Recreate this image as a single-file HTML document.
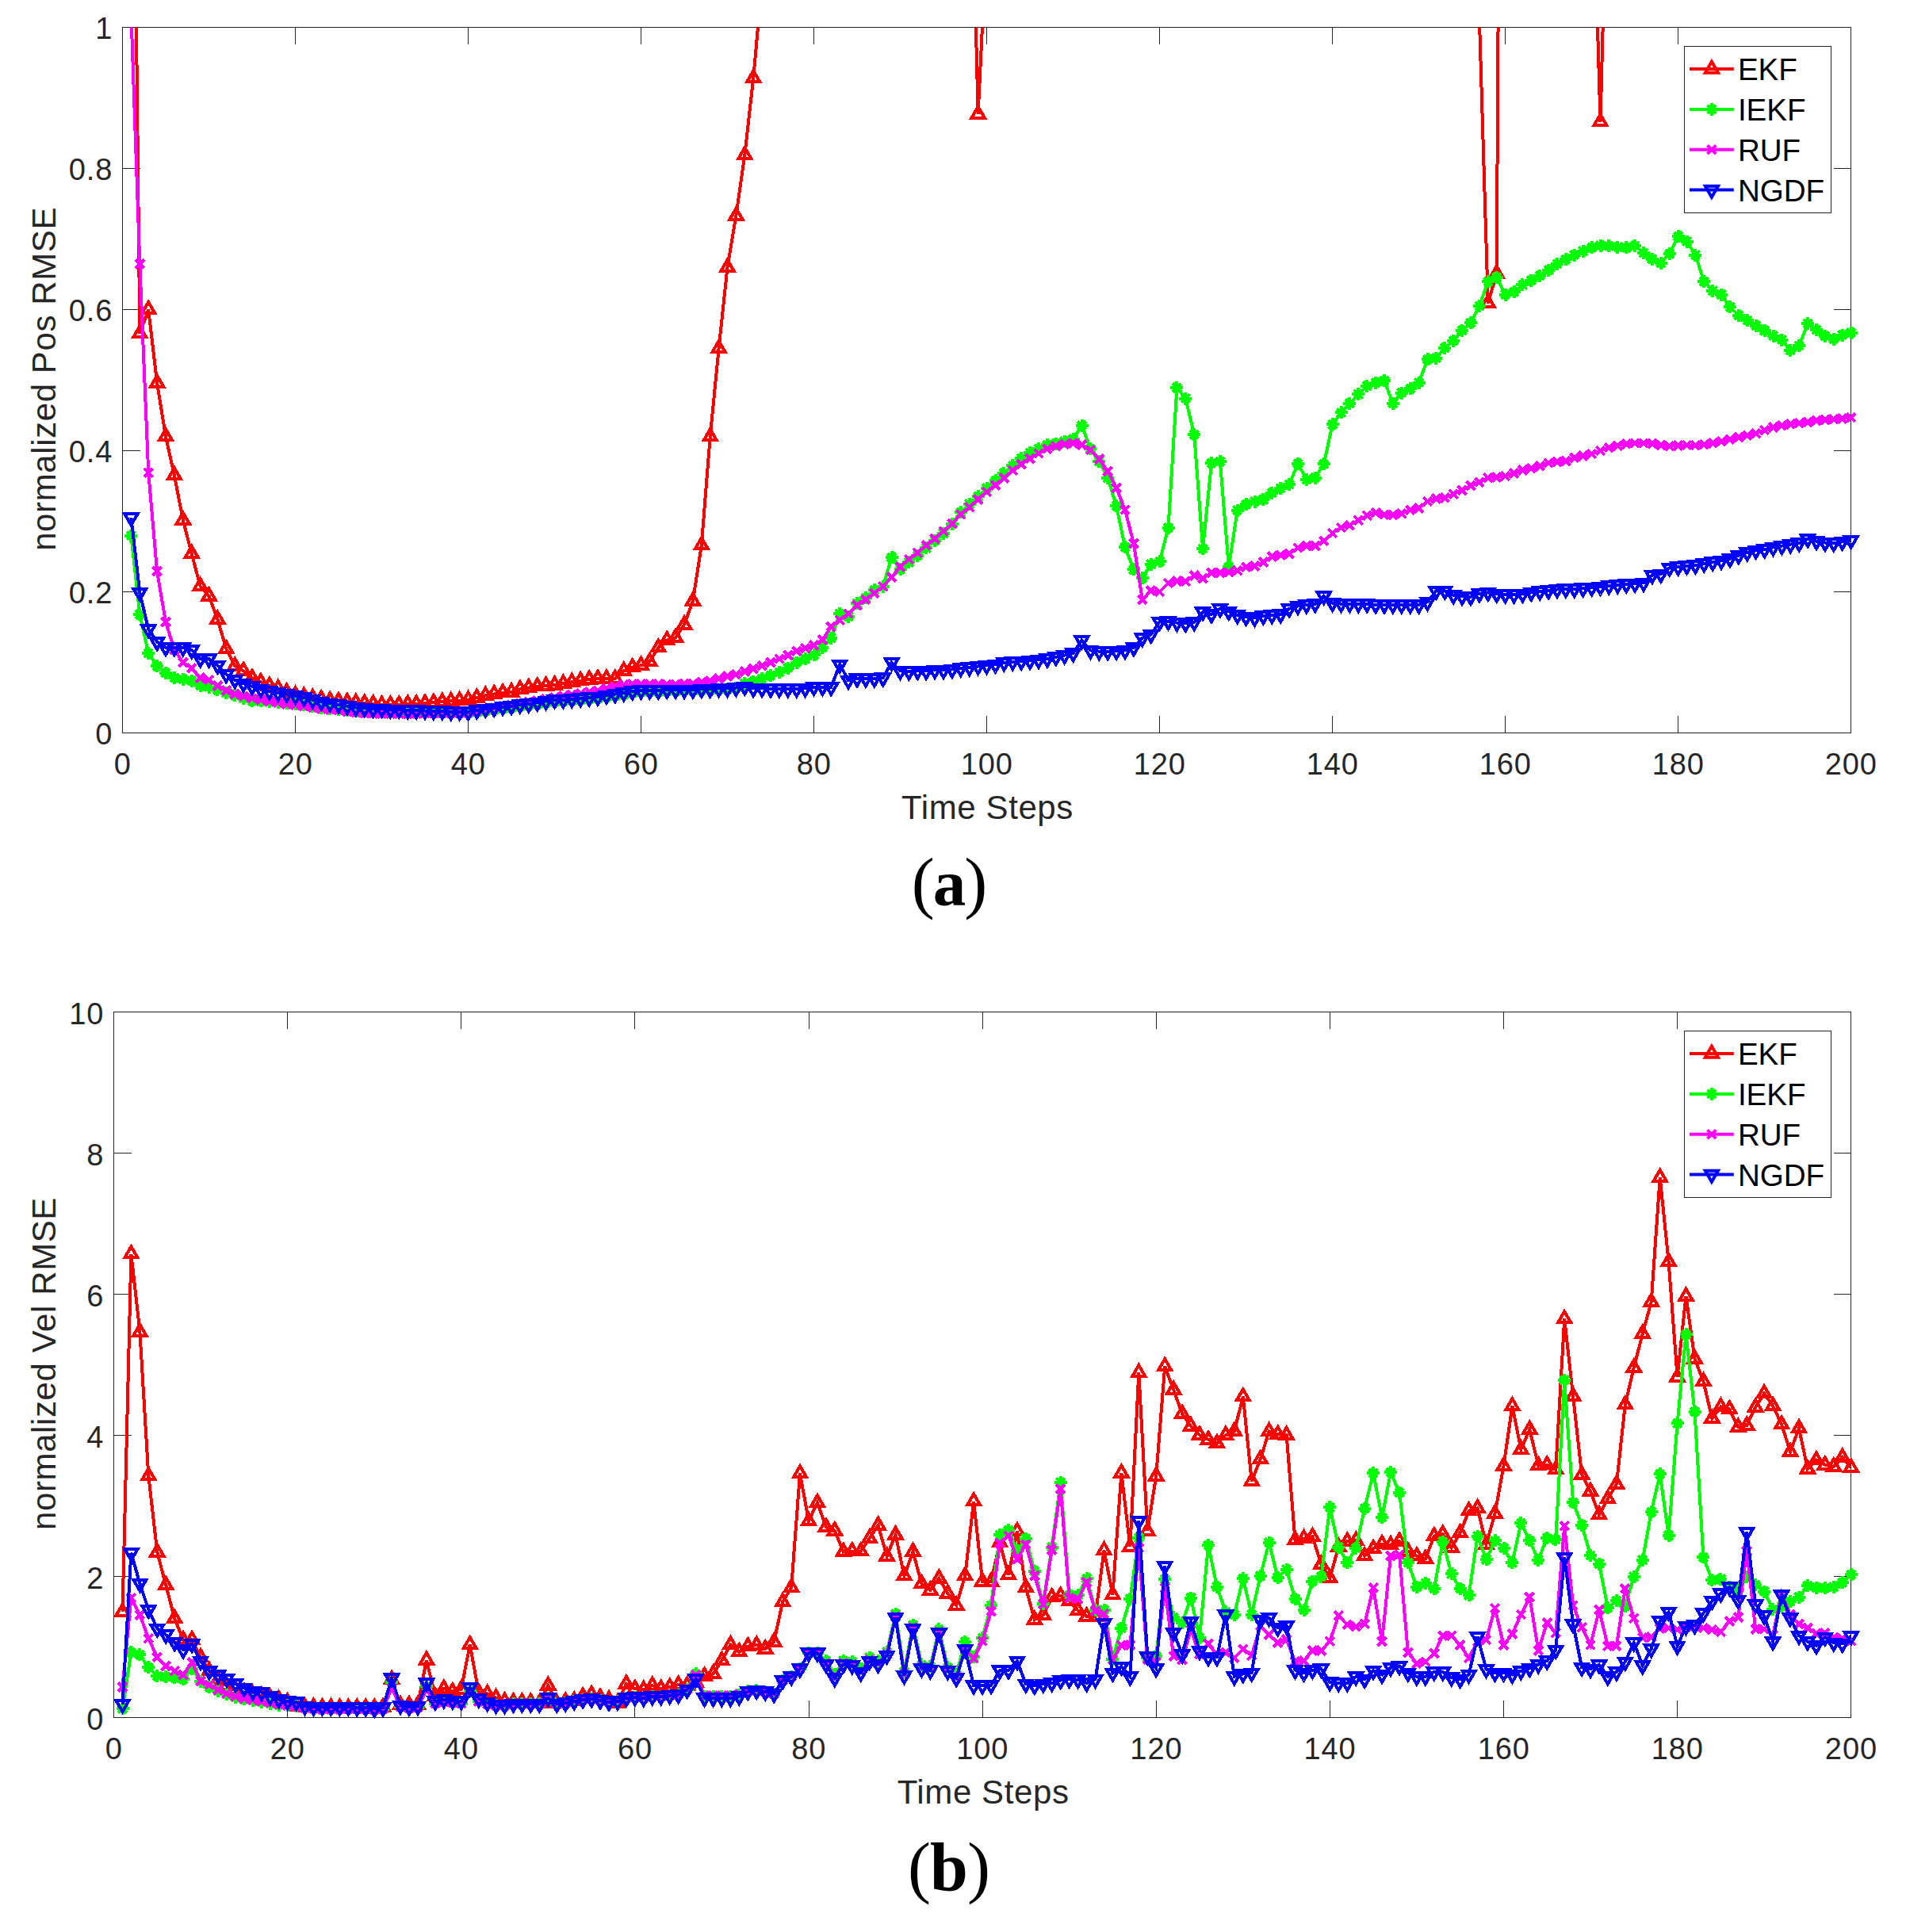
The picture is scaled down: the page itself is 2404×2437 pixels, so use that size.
<!DOCTYPE html>
<html lang="en"><head><meta charset="utf-8"><title>Normalized RMSE comparison</title>
<style>html,body{margin:0;padding:0;background:#fff}svg{display:block}</style></head>
<body>
<svg width="2404" height="2437" viewBox="0 0 2404 2437" font-family="'Liberation Sans', Arial, Helvetica, sans-serif">
<rect width="2404" height="2437" fill="#fff"/>
<clipPath id="clip1"><rect x="154.5" y="34.4" width="2180.1" height="890.1"/></clipPath>
<g stroke="#262626" stroke-width="1" fill="none" shape-rendering="crispEdges"><rect x="154.5" y="34.4" width="2180.1" height="890.1"/><path d="M372.5 924.5v-22M372.5 34.4v22M590.5 924.5v-22M590.5 34.4v22M808.5 924.5v-22M808.5 34.4v22M1026.5 924.5v-22M1026.5 34.4v22M1244.5 924.5v-22M1244.5 34.4v22M1462.6 924.5v-22M1462.6 34.4v22M1680.6 924.5v-22M1680.6 34.4v22M1898.6 924.5v-22M1898.6 34.4v22M2116.6 924.5v-22M2116.6 34.4v22M154.5 746.5h22M2334.6 746.5h-22M154.5 568.5h22M2334.6 568.5h-22M154.5 390.4h22M2334.6 390.4h-22M154.5 212.4h22M2334.6 212.4h-22"/></g>
<polyline clip-path="url(#clip1)" points="165.4,-553.1 176.3,420.7 187.2,390.4 198.1,483 209,550.7 219.9,599.6 230.8,656 241.7,698.4 252.6,739.4 263.5,751.8 274.4,781.2 285.3,818.6 296.2,839.9 307.1,846.2 318,855.1 328.9,860.4 339.8,864.9 350.7,868.4 361.6,872.9 372.5,876.4 383.4,878.2 394.3,880 405.2,881.8 416.1,883.6 427,884.4 437.9,885.3 448.8,886.2 459.7,887.1 470.6,888 481.5,888.9 492.4,888.9 503.3,888.9 514.2,888 525.1,888 536,887.1 546.9,886.2 557.8,885.3 568.7,884.4 579.6,883.6 590.5,882.7 601.4,880 612.3,877.3 623.2,875.5 634.1,873.8 645,872.9 655.9,869.3 666.8,867.5 677.7,865.8 688.6,864.9 699.5,864 710.4,862.2 721.3,860.4 732.2,858.6 743.1,856.9 754,856 764.9,856 775.8,856 786.7,846.2 797.6,841.7 808.5,839.1 819.4,834.6 830.3,816.8 841.2,807.4 852.1,804.3 863,787.9 873.9,758.1 884.8,687.7 895.7,550.7 906.6,439.4 917.5,337 928.4,272.1 939.3,195.5 950.2,98.5 961.1,-22.6 972,-3000 982.9,-3000 993.8,-3000 1004.7,-3000 1015.6,-3000 1026.5,-3000 1037.4,-3000 1048.3,-3000 1059.2,-3000 1070.1,-3000 1081,-3000 1091.9,-3000 1102.8,-3000 1113.7,-3000 1124.6,-3000 1135.5,-3000 1146.4,-3000 1157.3,-3000 1168.2,-3000 1179.1,-3000 1190,-3000 1200.9,-3000 1211.8,-3000 1222.7,-294.9 1233.6,143.9 1244.5,-79.5 1255.5,-3000 1266.4,-3000 1277.3,-3000 1288.2,-3000 1299.1,-3000 1310,-3000 1320.9,-3000 1331.8,-3000 1342.7,-3000 1353.6,-3000 1364.5,-3000 1375.4,-3000 1386.3,-3000 1397.2,-3000 1408.1,-3000 1419,-3000 1429.9,-3000 1440.8,-3000 1451.7,-3000 1462.6,-3000 1473.5,-3000 1484.4,-3000 1495.3,-3000 1506.2,-3000 1517.1,-3000 1528,-3000 1538.9,-3000 1549.8,-3000 1560.7,-3000 1571.6,-3000 1582.5,-3000 1593.4,-3000 1604.3,-3000 1615.2,-3000 1626.1,-3000 1637,-3000 1647.9,-3000 1658.8,-3000 1669.7,-3000 1680.6,-3000 1691.5,-3000 1702.4,-3000 1713.3,-3000 1724.2,-3000 1735.1,-3000 1746,-3000 1756.9,-3000 1767.8,-3000 1778.7,-3000 1789.6,-3000 1800.5,-3000 1811.4,-3000 1822.3,-3000 1833.2,-3000 1844.1,-3000 1855,-3000 1865.9,23.7 1876.8,382.4 1887.7,345 1898.6,-1478.8 1909.5,-3000 1920.4,-3000 1931.3,-3000 1942.2,-3000 1953.1,-3000 1964,-3000 1974.9,-3000 1985.8,-3000 1996.7,-3000 2007.6,-219.3 2018.5,153.7 2029.4,-257.6 2040.3,-3000 2051.2,-3000 2062.1,-3000 2073,-3000 2083.9,-3000 2094.8,-3000 2105.7,-3000 2116.6,-3000 2127.5,-3000 2138.4,-3000 2149.3,-3000 2160.2,-3000 2171.1,-3000 2182,-3000 2192.9,-3000 2203.8,-3000 2214.7,-3000 2225.6,-3000 2236.5,-3000 2247.4,-3000 2258.3,-3000 2269.2,-3000 2280.1,-3000 2291,-3000 2301.9,-3000 2312.8,-3000 2323.7,-3000 2334.6,-3000" fill="none" stroke="#ff0000" stroke-width="4.0" stroke-linejoin="miter" shape-rendering="crispEdges"/>
<path d="M176.3 411.4L184.4 425.4L168.2 425.4ZM187.2 381.1L195.3 395.1L179.1 395.1ZM198.1 473.7L206.2 487.7L190 487.7ZM209 541.4L217.1 555.3L200.9 555.3ZM219.9 590.3L228 604.3L211.8 604.3ZM230.8 646.7L238.9 660.7L222.7 660.7ZM241.7 689.1L249.8 703.1L233.6 703.1ZM252.6 730.1L260.7 744L244.6 744ZM263.5 742.5L271.6 756.5L255.5 756.5ZM274.4 771.9L282.5 785.8L266.4 785.8ZM285.3 809.3L293.4 823.2L277.3 823.2ZM296.2 830.6L304.3 844.6L288.2 844.6ZM307.1 836.9L315.2 850.8L299.1 850.8ZM318 845.8L326.1 859.7L310 859.7ZM328.9 851.1L337 865.1L320.9 865.1ZM339.8 855.6L347.9 869.5L331.8 869.5ZM350.7 859.1L358.8 873.1L342.7 873.1ZM361.6 863.6L369.7 877.5L353.6 877.5ZM372.5 867.1L380.6 881.1L364.5 881.1ZM383.4 868.9L391.5 882.9L375.4 882.9ZM394.3 870.7L402.4 884.6L386.3 884.6ZM405.2 872.5L413.3 886.4L397.2 886.4ZM416.1 874.3L424.2 888.2L408.1 888.2ZM427 875.1L435.1 889.1L419 889.1ZM437.9 876L446 890L429.9 890ZM448.8 876.9L456.9 890.9L440.8 890.9ZM459.7 877.8L467.8 891.8L451.7 891.8ZM470.6 878.7L478.7 892.7L462.6 892.7ZM481.5 879.6L489.6 893.5L473.5 893.5ZM492.4 879.6L500.5 893.5L484.4 893.5ZM503.3 879.6L511.4 893.5L495.3 893.5ZM514.2 878.7L522.3 892.7L506.2 892.7ZM525.1 878.7L533.2 892.7L517.1 892.7ZM536 877.8L544.1 891.8L528 891.8ZM546.9 876.9L555 890.9L538.9 890.9ZM557.8 876L565.9 890L549.8 890ZM568.7 875.1L576.8 889.1L560.7 889.1ZM579.6 874.3L587.7 888.2L571.6 888.2ZM590.5 873.4L598.6 887.3L582.5 887.3ZM601.4 870.7L609.5 884.6L593.4 884.6ZM612.3 868L620.4 882L604.3 882ZM623.2 866.2L631.3 880.2L615.2 880.2ZM634.1 864.5L642.2 878.4L626.1 878.4ZM645 863.6L653.1 877.5L637 877.5ZM655.9 860L664 874L647.9 874ZM666.8 858.2L674.9 872.2L658.8 872.2ZM677.7 856.5L685.8 870.4L669.7 870.4ZM688.6 855.6L696.7 869.5L680.6 869.5ZM699.5 854.7L707.6 868.6L691.5 868.6ZM710.4 852.9L718.5 866.8L702.4 866.8ZM721.3 851.1L729.4 865.1L713.3 865.1ZM732.2 849.3L740.3 863.3L724.2 863.3ZM743.1 847.6L751.2 861.5L735.1 861.5ZM754 846.7L762.1 860.6L746 860.6ZM764.9 846.7L773 860.6L756.9 860.6ZM775.8 846.7L783.9 860.6L767.8 860.6ZM786.7 836.9L794.8 850.8L778.7 850.8ZM797.6 832.4L805.7 846.4L789.6 846.4ZM808.5 829.8L816.6 843.7L800.5 843.7ZM819.4 825.3L827.5 839.2L811.4 839.2ZM830.3 807.5L838.4 821.4L822.3 821.4ZM841.2 798.1L849.3 812L833.2 812ZM852.1 795L860.2 809L844.1 809ZM863 778.6L871.1 792.5L855 792.5ZM873.9 748.8L882 762.7L865.9 762.7ZM884.8 678.4L892.9 692.4L876.8 692.4ZM895.7 541.4L903.8 555.3L887.7 555.3ZM906.6 430.1L914.7 444L898.6 444ZM917.5 327.7L925.6 341.7L909.5 341.7ZM928.4 262.8L936.5 276.7L920.4 276.7ZM939.3 186.2L947.4 200.2L931.3 200.2ZM950.2 89.2L958.3 103.1L942.2 103.1ZM1233.6 134.6L1241.7 148.5L1225.6 148.5ZM1876.8 373.1L1884.8 387.1L1868.7 387.1ZM1887.7 335.7L1895.7 349.7L1879.6 349.7ZM2018.5 144.4L2026.5 158.3L2010.4 158.3Z" fill="none" stroke="#ff0000" stroke-width="4.0" stroke-linejoin="miter" stroke-linecap="butt" shape-rendering="crispEdges"/>
<polyline clip-path="url(#clip1)" points="165.4,675.6 176.3,775 187.2,823.9 198.1,840.3 209,848.8 219.9,855.1 230.8,856.9 241.7,859 252.6,864.9 263.5,866.6 274.4,870.2 285.3,873.8 296.2,877.3 307.1,880.9 318,884.4 328.9,884.4 339.8,885.3 350.7,886.2 361.6,887.1 372.5,888 383.4,888.9 394.3,890.7 405.2,892.5 416.1,894.2 427,895.1 437.9,896 448.8,896.5 459.7,896.9 470.6,897.4 481.5,897.8 492.4,898 503.3,898.2 514.2,898.3 525.1,898.5 536,898.7 546.9,898.9 557.8,899 568.7,899.2 579.6,899.4 590.5,899.6 601.4,898.2 612.3,896.7 623.2,895.3 634.1,893.9 645,892.5 655.9,891 666.8,889.6 677.7,888.2 688.6,886.8 699.5,885.3 710.4,884.4 721.3,883.6 732.2,882.7 743.1,881.8 754,880.9 764.9,879.3 775.8,877.7 786.7,876.1 797.6,874.5 808.5,872.9 819.4,872.5 830.3,872.2 841.2,871.8 852.1,871.5 863,871.1 873.9,870.7 884.8,870.4 895.7,870 906.6,869.7 917.5,869.3 928.4,867.5 939.3,862.2 950.2,859.5 961.1,856 972,852.4 982.9,848 993.8,842.6 1004.7,835.5 1015.6,831 1026.5,826.1 1037.4,816.8 1048.3,804.7 1059.2,774.1 1070.1,777.6 1081,761 1091.9,753.9 1102.8,744.4 1113.7,739.7 1124.6,703.1 1135.5,718.4 1146.4,709.1 1157.3,700.7 1168.2,691.3 1179.1,681.9 1190,672.6 1200.9,660.7 1211.8,646.4 1222.7,635.8 1233.6,626.3 1244.5,615.8 1255.5,606.3 1266.4,596.9 1277.3,587.4 1288.2,578.3 1299.1,571.1 1310,566.1 1320.9,561.3 1331.8,559.6 1342.7,556.9 1353.6,553.8 1364.5,536.7 1375.4,566.1 1386.3,581.8 1397.2,602.8 1408.1,638.2 1419,690.4 1429.9,718.4 1440.8,729.1 1451.7,711.8 1462.6,708.2 1473.5,665.7 1484.4,489.2 1495.3,502.6 1506.2,548 1517.1,692.2 1528,584.2 1538.9,582.3 1549.8,715.3 1560.7,643.7 1571.6,636.1 1582.5,632.5 1593.4,630.2 1604.3,621.9 1615.2,616.1 1626.1,611.2 1637,584.7 1647.9,605 1658.8,602.6 1669.7,585.4 1680.6,535.3 1691.5,520.4 1702.4,508.8 1713.3,497.3 1724.2,486.9 1735.1,482.7 1746,480.3 1756.9,508.8 1767.8,495.6 1778.7,490.1 1789.6,482.7 1800.5,453.2 1811.4,451.5 1822.3,439 1833.2,429.6 1844.1,416.6 1855,407.4 1865.9,386 1876.8,355.1 1887.7,349.9 1898.6,371.7 1909.5,368.2 1920.4,359.3 1931.3,353.9 1942.2,347.7 1953.1,340.9 1964,333.1 1974.9,327.2 1985.8,321.5 1996.7,316.8 2007.6,312.4 2018.5,309.8 2029.4,310.3 2040.3,311.7 2051.2,312.4 2062.1,309.8 2073,318.9 2083.9,326.6 2094.8,331.7 2105.7,320.1 2116.6,298.1 2127.5,304.6 2138.4,321.5 2149.3,355.1 2160.2,366.8 2171.1,371.7 2182,387.4 2192.9,397.8 2203.8,404.2 2214.7,410.9 2225.6,417.1 2236.5,423.6 2247.4,428.7 2258.3,441.8 2269.2,436.1 2280.1,408.2 2291,415.9 2301.9,423.6 2312.8,427.6 2323.7,422.5 2334.6,419.8" fill="none" stroke="#00ff00" stroke-width="4.0" stroke-linejoin="miter" shape-rendering="crispEdges"/>
<path d="M157.4 675.6L173.4 675.6M165.4 667.6L165.4 683.6M160.1 670.3L170.7 680.9M160.1 680.9L170.7 670.3M168.3 775L184.3 775M176.3 767L176.3 783M171 769.7L181.6 780.3M171 780.3L181.6 769.7M179.2 823.9L195.2 823.9M187.2 815.9L187.2 831.9M181.9 818.6L192.5 829.2M181.9 829.2L192.5 818.6M190.1 840.3L206.1 840.3M198.1 832.3L198.1 848.3M192.8 835L203.4 845.6M192.8 845.6L203.4 835M201 848.8L217 848.8M209 840.8L209 856.8M203.7 843.5L214.3 854.1M203.7 854.1L214.3 843.5M211.9 855.1L227.9 855.1M219.9 847.1L219.9 863.1M214.6 849.8L225.2 860.4M214.6 860.4L225.2 849.8M222.8 856.9L238.8 856.9M230.8 848.9L230.8 864.9M225.5 851.6L236.1 862.2M225.5 862.2L236.1 851.6M233.7 859L249.7 859M241.7 851L241.7 867M236.4 853.7L247 864.3M236.4 864.3L247 853.7M244.6 864.9L260.6 864.9M252.6 856.9L252.6 872.9M247.3 859.6L257.9 870.2M247.3 870.2L257.9 859.6M255.5 866.6L271.5 866.6M263.5 858.6L263.5 874.6M258.2 861.3L268.8 871.9M258.2 871.9L268.8 861.3M266.4 870.2L282.4 870.2M274.4 862.2L274.4 878.2M269.1 864.9L279.7 875.5M269.1 875.5L279.7 864.9M277.3 873.8L293.3 873.8M285.3 865.8L285.3 881.8M280 868.5L290.6 879.1M280 879.1L290.6 868.5M288.2 877.3L304.2 877.3M296.2 869.3L296.2 885.3M290.9 872L301.5 882.6M290.9 882.6L301.5 872M299.1 880.9L315.1 880.9M307.1 872.9L307.1 888.9M301.8 875.6L312.4 886.2M301.8 886.2L312.4 875.6M310 884.4L326 884.4M318 876.4L318 892.4M312.7 879.1L323.3 889.7M312.7 889.7L323.3 879.1M320.9 884.4L336.9 884.4M328.9 876.4L328.9 892.4M323.6 879.1L334.2 889.7M323.6 889.7L334.2 879.1M331.8 885.3L347.8 885.3M339.8 877.3L339.8 893.3M334.5 880L345.1 890.6M334.5 890.6L345.1 880M342.7 886.2L358.7 886.2M350.7 878.2L350.7 894.2M345.4 880.9L356 891.5M345.4 891.5L356 880.9M353.6 887.1L369.6 887.1M361.6 879.1L361.6 895.1M356.3 881.8L366.9 892.4M356.3 892.4L366.9 881.8M364.5 888L380.5 888M372.5 880L372.5 896M367.2 882.7L377.8 893.3M367.2 893.3L377.8 882.7M375.4 888.9L391.4 888.9M383.4 880.9L383.4 896.9M378.1 883.6L388.7 894.2M378.1 894.2L388.7 883.6M386.3 890.7L402.3 890.7M394.3 882.7L394.3 898.7M389 885.4L399.6 896M389 896L399.6 885.4M397.2 892.5L413.2 892.5M405.2 884.5L405.2 900.5M399.9 887.2L410.5 897.8M399.9 897.8L410.5 887.2M408.1 894.2L424.1 894.2M416.1 886.2L416.1 902.2M410.8 888.9L421.4 899.5M410.8 899.5L421.4 888.9M419 895.1L435 895.1M427 887.1L427 903.1M421.7 889.8L432.3 900.4M421.7 900.4L432.3 889.8M429.9 896L445.9 896M437.9 888L437.9 904M432.6 890.7L443.2 901.3M432.6 901.3L443.2 890.7M440.8 896.5L456.8 896.5M448.8 888.5L448.8 904.5M443.5 891.2L454.1 901.8M443.5 901.8L454.1 891.2M451.7 896.9L467.7 896.9M459.7 888.9L459.7 904.9M454.4 891.6L465 902.2M454.4 902.2L465 891.6M462.6 897.4L478.6 897.4M470.6 889.4L470.6 905.4M465.3 892.1L475.9 902.7M465.3 902.7L475.9 892.1M473.5 897.8L489.5 897.8M481.5 889.8L481.5 905.8M476.2 892.5L486.8 903.1M476.2 903.1L486.8 892.5M484.4 898L500.4 898M492.4 890L492.4 906M487.1 892.7L497.7 903.3M487.1 903.3L497.7 892.7M495.3 898.2L511.3 898.2M503.3 890.2L503.3 906.2M498 892.9L508.6 903.5M498 903.5L508.6 892.9M506.2 898.3L522.2 898.3M514.2 890.3L514.2 906.3M508.9 893L519.5 903.6M508.9 903.6L519.5 893M517.1 898.5L533.1 898.5M525.1 890.5L525.1 906.5M519.8 893.2L530.4 903.8M519.8 903.8L530.4 893.2M528 898.7L544 898.7M536 890.7L536 906.7M530.7 893.4L541.3 904M530.7 904L541.3 893.4M538.9 898.9L554.9 898.9M546.9 890.9L546.9 906.9M541.6 893.6L552.2 904.2M541.6 904.2L552.2 893.6M549.8 899L565.8 899M557.8 891L557.8 907M552.5 893.7L563.1 904.3M552.5 904.3L563.1 893.7M560.7 899.2L576.7 899.2M568.7 891.2L568.7 907.2M563.4 893.9L574 904.5M563.4 904.5L574 893.9M571.6 899.4L587.6 899.4M579.6 891.4L579.6 907.4M574.3 894.1L584.9 904.7M574.3 904.7L584.9 894.1M582.5 899.6L598.5 899.6M590.5 891.6L590.5 907.6M585.2 894.3L595.8 904.9M585.2 904.9L595.8 894.3M593.4 898.2L609.4 898.2M601.4 890.2L601.4 906.2M596.1 892.9L606.7 903.5M596.1 903.5L606.7 892.9M604.3 896.7L620.3 896.7M612.3 888.7L612.3 904.7M607 891.4L617.6 902M607 902L617.6 891.4M615.2 895.3L631.2 895.3M623.2 887.3L623.2 903.3M617.9 890L628.5 900.6M617.9 900.6L628.5 890M626.1 893.9L642.1 893.9M634.1 885.9L634.1 901.9M628.8 888.6L639.4 899.2M628.8 899.2L639.4 888.6M637 892.5L653 892.5M645 884.5L645 900.5M639.7 887.2L650.3 897.8M639.7 897.8L650.3 887.2M647.9 891L663.9 891M655.9 883L655.9 899M650.6 885.7L661.2 896.3M650.6 896.3L661.2 885.7M658.8 889.6L674.8 889.6M666.8 881.6L666.8 897.6M661.5 884.3L672.1 894.9M661.5 894.9L672.1 884.3M669.7 888.2L685.7 888.2M677.7 880.2L677.7 896.2M672.4 882.9L683 893.5M672.4 893.5L683 882.9M680.6 886.8L696.6 886.8M688.6 878.8L688.6 894.8M683.3 881.5L693.9 892.1M683.3 892.1L693.9 881.5M691.5 885.3L707.5 885.3M699.5 877.3L699.5 893.3M694.2 880L704.8 890.6M694.2 890.6L704.8 880M702.4 884.4L718.4 884.4M710.4 876.4L710.4 892.4M705.1 879.1L715.7 889.7M705.1 889.7L715.7 879.1M713.3 883.6L729.3 883.6M721.3 875.6L721.3 891.6M716 878.3L726.6 888.9M716 888.9L726.6 878.3M724.2 882.7L740.2 882.7M732.2 874.7L732.2 890.7M726.9 877.4L737.5 888M726.9 888L737.5 877.4M735.1 881.8L751.1 881.8M743.1 873.8L743.1 889.8M737.8 876.5L748.4 887.1M737.8 887.1L748.4 876.5M746 880.9L762 880.9M754 872.9L754 888.9M748.7 875.6L759.3 886.2M748.7 886.2L759.3 875.6M756.9 879.3L772.9 879.3M764.9 871.3L764.9 887.3M759.6 874L770.2 884.6M759.6 884.6L770.2 874M767.8 877.7L783.8 877.7M775.8 869.7L775.8 885.7M770.5 872.4L781.1 883M770.5 883L781.1 872.4M778.7 876.1L794.7 876.1M786.7 868.1L786.7 884.1M781.4 870.8L792 881.4M781.4 881.4L792 870.8M789.6 874.5L805.6 874.5M797.6 866.5L797.6 882.5M792.3 869.2L802.9 879.8M792.3 879.8L802.9 869.2M800.5 872.9L816.5 872.9M808.5 864.9L808.5 880.9M803.2 867.6L813.8 878.2M803.2 878.2L813.8 867.6M811.4 872.5L827.4 872.5M819.4 864.5L819.4 880.5M814.1 867.2L824.7 877.8M814.1 877.8L824.7 867.2M822.3 872.2L838.3 872.2M830.3 864.2L830.3 880.2M825 866.9L835.6 877.5M825 877.5L835.6 866.9M833.2 871.8L849.2 871.8M841.2 863.8L841.2 879.8M835.9 866.5L846.5 877.1M835.9 877.1L846.5 866.5M844.1 871.5L860.1 871.5M852.1 863.5L852.1 879.5M846.8 866.2L857.4 876.8M846.8 876.8L857.4 866.2M855 871.1L871 871.1M863 863.1L863 879.1M857.7 865.8L868.3 876.4M857.7 876.4L868.3 865.8M865.9 870.7L881.9 870.7M873.9 862.7L873.9 878.7M868.6 865.4L879.2 876M868.6 876L879.2 865.4M876.8 870.4L892.8 870.4M884.8 862.4L884.8 878.4M879.5 865.1L890.1 875.7M879.5 875.7L890.1 865.1M887.7 870L903.7 870M895.7 862L895.7 878M890.4 864.7L901 875.3M890.4 875.3L901 864.7M898.6 869.7L914.6 869.7M906.6 861.7L906.6 877.7M901.3 864.4L911.9 875M901.3 875L911.9 864.4M909.5 869.3L925.5 869.3M917.5 861.3L917.5 877.3M912.2 864L922.8 874.6M912.2 874.6L922.8 864M920.4 867.5L936.4 867.5M928.4 859.5L928.4 875.5M923.1 862.2L933.7 872.8M923.1 872.8L933.7 862.2M931.3 862.2L947.3 862.2M939.3 854.2L939.3 870.2M934 856.9L944.6 867.5M934 867.5L944.6 856.9M942.2 859.5L958.2 859.5M950.2 851.5L950.2 867.5M944.9 854.2L955.5 864.8M944.9 864.8L955.5 854.2M953.1 856L969.1 856M961.1 848L961.1 864M955.8 850.7L966.4 861.3M955.8 861.3L966.4 850.7M964 852.4L980 852.4M972 844.4L972 860.4M966.7 847.1L977.3 857.7M966.7 857.7L977.3 847.1M974.9 848L990.9 848M982.9 840L982.9 856M977.6 842.7L988.2 853.3M977.6 853.3L988.2 842.7M985.8 842.6L1001.8 842.6M993.8 834.6L993.8 850.6M988.5 837.3L999.1 847.9M988.5 847.9L999.1 837.3M996.7 835.5L1012.7 835.5M1004.7 827.5L1004.7 843.5M999.4 830.2L1010 840.8M999.4 840.8L1010 830.2M1007.6 831L1023.6 831M1015.6 823L1015.6 839M1010.3 825.7L1020.9 836.3M1010.3 836.3L1020.9 825.7M1018.5 826.1L1034.5 826.1M1026.5 818.1L1026.5 834.1M1021.2 820.8L1031.8 831.4M1021.2 831.4L1031.8 820.8M1029.4 816.8L1045.4 816.8M1037.4 808.8L1037.4 824.8M1032.1 811.5L1042.7 822.1M1032.1 822.1L1042.7 811.5M1040.3 804.7L1056.3 804.7M1048.3 796.7L1048.3 812.7M1043 799.4L1053.6 810M1043 810L1053.6 799.4M1051.2 774.1L1067.2 774.1M1059.2 766.1L1059.2 782.1M1053.9 768.8L1064.5 779.4M1053.9 779.4L1064.5 768.8M1062.1 777.6L1078.1 777.6M1070.1 769.6L1070.1 785.6M1064.8 772.3L1075.4 782.9M1064.8 782.9L1075.4 772.3M1073 761L1089 761M1081 753L1081 769M1075.7 755.7L1086.3 766.3M1075.7 766.3L1086.3 755.7M1083.9 753.9L1099.9 753.9M1091.9 745.9L1091.9 761.9M1086.6 748.6L1097.2 759.2M1086.6 759.2L1097.2 748.6M1094.8 744.4L1110.8 744.4M1102.8 736.4L1102.8 752.4M1097.5 739.1L1108.1 749.7M1097.5 749.7L1108.1 739.1M1105.7 739.7L1121.7 739.7M1113.7 731.7L1113.7 747.7M1108.4 734.4L1119 745M1108.4 745L1119 734.4M1116.6 703.1L1132.6 703.1M1124.6 695.1L1124.6 711.1M1119.3 697.8L1129.9 708.4M1119.3 708.4L1129.9 697.8M1127.5 718.4L1143.5 718.4M1135.5 710.4L1135.5 726.4M1130.2 713.1L1140.8 723.7M1130.2 723.7L1140.8 713.1M1138.4 709.1L1154.4 709.1M1146.4 701.1L1146.4 717.1M1141.1 703.8L1151.7 714.4M1141.1 714.4L1151.7 703.8M1149.3 700.7L1165.3 700.7M1157.3 692.7L1157.3 708.7M1152 695.4L1162.6 706M1152 706L1162.6 695.4M1160.2 691.3L1176.2 691.3M1168.2 683.3L1168.2 699.3M1162.9 686L1173.5 696.6M1162.9 696.6L1173.5 686M1171.1 681.9L1187.1 681.9M1179.1 673.9L1179.1 689.9M1173.8 676.6L1184.4 687.2M1173.8 687.2L1184.4 676.6M1182 672.6L1198 672.6M1190 664.6L1190 680.6M1184.7 667.3L1195.3 677.9M1184.7 677.9L1195.3 667.3M1192.9 660.7L1208.9 660.7M1200.9 652.7L1200.9 668.7M1195.6 655.4L1206.2 666M1195.6 666L1206.2 655.4M1203.8 646.4L1219.8 646.4M1211.8 638.4L1211.8 654.4M1206.5 641.1L1217.1 651.7M1206.5 651.7L1217.1 641.1M1214.7 635.8L1230.7 635.8M1222.7 627.8L1222.7 643.8M1217.4 630.5L1228 641.1M1217.4 641.1L1228 630.5M1225.6 626.3L1241.6 626.3M1233.6 618.3L1233.6 634.3M1228.3 621L1238.9 631.6M1228.3 631.6L1238.9 621M1236.5 615.8L1252.5 615.8M1244.5 607.8L1244.5 623.8M1239.2 610.5L1249.8 621.1M1239.2 621.1L1249.8 610.5M1247.5 606.3L1263.5 606.3M1255.5 598.3L1255.5 614.3M1250.2 601L1260.8 611.6M1250.2 611.6L1260.8 601M1258.4 596.9L1274.4 596.9M1266.4 588.9L1266.4 604.9M1261.1 591.6L1271.7 602.2M1261.1 602.2L1271.7 591.6M1269.3 587.4L1285.3 587.4M1277.3 579.4L1277.3 595.4M1272 582.1L1282.6 592.7M1272 592.7L1282.6 582.1M1280.2 578.3L1296.2 578.3M1288.2 570.3L1288.2 586.3M1282.9 573L1293.5 583.6M1282.9 583.6L1293.5 573M1291.1 571.1L1307.1 571.1M1299.1 563.1L1299.1 579.1M1293.8 565.8L1304.4 576.4M1293.8 576.4L1304.4 565.8M1302 566.1L1318 566.1M1310 558.1L1310 574.1M1304.7 560.8L1315.3 571.4M1304.7 571.4L1315.3 560.8M1312.9 561.3L1328.9 561.3M1320.9 553.3L1320.9 569.3M1315.6 556L1326.2 566.6M1315.6 566.6L1326.2 556M1323.8 559.6L1339.8 559.6M1331.8 551.6L1331.8 567.6M1326.5 554.3L1337.1 564.9M1326.5 564.9L1337.1 554.3M1334.7 556.9L1350.7 556.9M1342.7 548.9L1342.7 564.9M1337.4 551.6L1348 562.2M1337.4 562.2L1348 551.6M1345.6 553.8L1361.6 553.8M1353.6 545.8L1353.6 561.8M1348.3 548.5L1358.9 559.1M1348.3 559.1L1358.9 548.5M1356.5 536.7L1372.5 536.7M1364.5 528.7L1364.5 544.7M1359.2 531.4L1369.8 542M1359.2 542L1369.8 531.4M1367.4 566.1L1383.4 566.1M1375.4 558.1L1375.4 574.1M1370.1 560.8L1380.7 571.4M1370.1 571.4L1380.7 560.8M1378.3 581.8L1394.3 581.8M1386.3 573.8L1386.3 589.8M1381 576.5L1391.6 587.1M1381 587.1L1391.6 576.5M1389.2 602.8L1405.2 602.8M1397.2 594.8L1397.2 610.8M1391.9 597.5L1402.5 608.1M1391.9 608.1L1402.5 597.5M1400.1 638.2L1416.1 638.2M1408.1 630.2L1408.1 646.2M1402.8 632.9L1413.4 643.5M1402.8 643.5L1413.4 632.9M1411 690.4L1427 690.4M1419 682.4L1419 698.4M1413.7 685.1L1424.3 695.7M1413.7 695.7L1424.3 685.1M1421.9 718.4L1437.9 718.4M1429.9 710.4L1429.9 726.4M1424.6 713.1L1435.2 723.7M1424.6 723.7L1435.2 713.1M1432.8 729.1L1448.8 729.1M1440.8 721.1L1440.8 737.1M1435.5 723.8L1446.1 734.4M1435.5 734.4L1446.1 723.8M1443.7 711.8L1459.7 711.8M1451.7 703.8L1451.7 719.8M1446.4 706.5L1457 717.1M1446.4 717.1L1457 706.5M1454.6 708.2L1470.6 708.2M1462.6 700.2L1462.6 716.2M1457.3 702.9L1467.9 713.5M1457.3 713.5L1467.9 702.9M1465.5 665.7L1481.5 665.7M1473.5 657.7L1473.5 673.7M1468.2 660.4L1478.8 671M1468.2 671L1478.8 660.4M1476.4 489.2L1492.4 489.2M1484.4 481.2L1484.4 497.2M1479.1 483.9L1489.7 494.5M1479.1 494.5L1489.7 483.9M1487.3 502.6L1503.3 502.6M1495.3 494.6L1495.3 510.6M1490 497.3L1500.6 507.9M1490 507.9L1500.6 497.3M1498.2 548L1514.2 548M1506.2 540L1506.2 556M1500.9 542.7L1511.5 553.3M1500.9 553.3L1511.5 542.7M1509.1 692.2L1525.1 692.2M1517.1 684.2L1517.1 700.2M1511.8 686.9L1522.4 697.5M1511.8 697.5L1522.4 686.9M1520 584.2L1536 584.2M1528 576.2L1528 592.2M1522.7 578.9L1533.3 589.5M1522.7 589.5L1533.3 578.9M1530.9 582.3L1546.9 582.3M1538.9 574.3L1538.9 590.3M1533.6 577L1544.2 587.6M1533.6 587.6L1544.2 577M1541.8 715.3L1557.8 715.3M1549.8 707.3L1549.8 723.3M1544.5 710L1555.1 720.6M1544.5 720.6L1555.1 710M1552.7 643.7L1568.7 643.7M1560.7 635.7L1560.7 651.7M1555.4 638.4L1566 649M1555.4 649L1566 638.4M1563.6 636.1L1579.6 636.1M1571.6 628.1L1571.6 644.1M1566.3 630.8L1576.9 641.4M1566.3 641.4L1576.9 630.8M1574.5 632.5L1590.5 632.5M1582.5 624.5L1582.5 640.5M1577.2 627.2L1587.8 637.8M1577.2 637.8L1587.8 627.2M1585.4 630.2L1601.4 630.2M1593.4 622.2L1593.4 638.2M1588.1 624.9L1598.7 635.5M1588.1 635.5L1598.7 624.9M1596.3 621.9L1612.3 621.9M1604.3 613.9L1604.3 629.9M1599 616.6L1609.6 627.2M1599 627.2L1609.6 616.6M1607.2 616.1L1623.2 616.1M1615.2 608.1L1615.2 624.1M1609.9 610.8L1620.5 621.4M1609.9 621.4L1620.5 610.8M1618.1 611.2L1634.1 611.2M1626.1 603.2L1626.1 619.2M1620.8 605.9L1631.4 616.5M1620.8 616.5L1631.4 605.9M1629 584.7L1645 584.7M1637 576.7L1637 592.7M1631.7 579.4L1642.3 590M1631.7 590L1642.3 579.4M1639.9 605L1655.9 605M1647.9 597L1647.9 613M1642.6 599.7L1653.2 610.3M1642.6 610.3L1653.2 599.7M1650.8 602.6L1666.8 602.6M1658.8 594.6L1658.8 610.6M1653.5 597.3L1664.1 607.9M1653.5 607.9L1664.1 597.3M1661.7 585.4L1677.7 585.4M1669.7 577.4L1669.7 593.4M1664.4 580.1L1675 590.7M1664.4 590.7L1675 580.1M1672.6 535.3L1688.6 535.3M1680.6 527.3L1680.6 543.3M1675.3 530L1685.9 540.6M1675.3 540.6L1685.9 530M1683.5 520.4L1699.5 520.4M1691.5 512.4L1691.5 528.4M1686.2 515.1L1696.8 525.7M1686.2 525.7L1696.8 515.1M1694.4 508.8L1710.4 508.8M1702.4 500.8L1702.4 516.8M1697.1 503.5L1707.7 514.1M1697.1 514.1L1707.7 503.5M1705.3 497.3L1721.3 497.3M1713.3 489.3L1713.3 505.3M1708 492L1718.6 502.6M1708 502.6L1718.6 492M1716.2 486.9L1732.2 486.9M1724.2 478.9L1724.2 494.9M1718.9 481.6L1729.5 492.2M1718.9 492.2L1729.5 481.6M1727.1 482.7L1743.1 482.7M1735.1 474.7L1735.1 490.7M1729.8 477.4L1740.4 488M1729.8 488L1740.4 477.4M1738 480.3L1754 480.3M1746 472.3L1746 488.3M1740.7 475L1751.3 485.6M1740.7 485.6L1751.3 475M1748.9 508.8L1764.9 508.8M1756.9 500.8L1756.9 516.8M1751.6 503.5L1762.2 514.1M1751.6 514.1L1762.2 503.5M1759.8 495.6L1775.8 495.6M1767.8 487.6L1767.8 503.6M1762.5 490.3L1773.1 500.9M1762.5 500.9L1773.1 490.3M1770.7 490.1L1786.7 490.1M1778.7 482.1L1778.7 498.1M1773.4 484.8L1784 495.4M1773.4 495.4L1784 484.8M1781.6 482.7L1797.6 482.7M1789.6 474.7L1789.6 490.7M1784.3 477.4L1794.9 488M1784.3 488L1794.9 477.4M1792.5 453.2L1808.5 453.2M1800.5 445.2L1800.5 461.2M1795.2 447.9L1805.8 458.5M1795.2 458.5L1805.8 447.9M1803.4 451.5L1819.4 451.5M1811.4 443.5L1811.4 459.5M1806.1 446.2L1816.7 456.8M1806.1 456.8L1816.7 446.2M1814.3 439L1830.3 439M1822.3 431L1822.3 447M1817 433.7L1827.6 444.3M1817 444.3L1827.6 433.7M1825.2 429.6L1841.2 429.6M1833.2 421.6L1833.2 437.6M1827.9 424.3L1838.5 434.9M1827.9 434.9L1838.5 424.3M1836.1 416.6L1852.1 416.6M1844.1 408.6L1844.1 424.6M1838.8 411.3L1849.4 421.9M1838.8 421.9L1849.4 411.3M1847 407.4L1863 407.4M1855 399.4L1855 415.4M1849.7 402.1L1860.3 412.7M1849.7 412.7L1860.3 402.1M1857.9 386L1873.9 386M1865.9 378L1865.9 394M1860.6 380.7L1871.2 391.3M1860.6 391.3L1871.2 380.7M1868.8 355.1L1884.8 355.1M1876.8 347.1L1876.8 363.1M1871.5 349.8L1882.1 360.4M1871.5 360.4L1882.1 349.8M1879.7 349.9L1895.7 349.9M1887.7 341.9L1887.7 357.9M1882.4 344.6L1893 355.2M1882.4 355.2L1893 344.6M1890.6 371.7L1906.6 371.7M1898.6 363.7L1898.6 379.7M1893.3 366.4L1903.9 377M1893.3 377L1903.9 366.4M1901.5 368.2L1917.5 368.2M1909.5 360.2L1909.5 376.2M1904.2 362.9L1914.8 373.5M1904.2 373.5L1914.8 362.9M1912.4 359.3L1928.4 359.3M1920.4 351.3L1920.4 367.3M1915.1 354L1925.7 364.6M1915.1 364.6L1925.7 354M1923.3 353.9L1939.3 353.9M1931.3 345.9L1931.3 361.9M1926 348.6L1936.6 359.2M1926 359.2L1936.6 348.6M1934.2 347.7L1950.2 347.7M1942.2 339.7L1942.2 355.7M1936.9 342.4L1947.5 353M1936.9 353L1947.5 342.4M1945.1 340.9L1961.1 340.9M1953.1 332.9L1953.1 348.9M1947.8 335.6L1958.4 346.2M1947.8 346.2L1958.4 335.6M1956 333.1L1972 333.1M1964 325.1L1964 341.1M1958.7 327.8L1969.3 338.4M1958.7 338.4L1969.3 327.8M1966.9 327.2L1982.9 327.2M1974.9 319.2L1974.9 335.2M1969.6 321.9L1980.2 332.5M1969.6 332.5L1980.2 321.9M1977.8 321.5L1993.8 321.5M1985.8 313.5L1985.8 329.5M1980.5 316.2L1991.1 326.8M1980.5 326.8L1991.1 316.2M1988.7 316.8L2004.7 316.8M1996.7 308.8L1996.7 324.8M1991.4 311.5L2002 322.1M1991.4 322.1L2002 311.5M1999.6 312.4L2015.6 312.4M2007.6 304.4L2007.6 320.4M2002.3 307.1L2012.9 317.7M2002.3 317.7L2012.9 307.1M2010.5 309.8L2026.5 309.8M2018.5 301.8L2018.5 317.8M2013.2 304.5L2023.8 315.1M2013.2 315.1L2023.8 304.5M2021.4 310.3L2037.4 310.3M2029.4 302.3L2029.4 318.3M2024.1 305L2034.7 315.6M2024.1 315.6L2034.7 305M2032.3 311.7L2048.3 311.7M2040.3 303.7L2040.3 319.7M2035 306.4L2045.6 317M2035 317L2045.6 306.4M2043.2 312.4L2059.2 312.4M2051.2 304.4L2051.2 320.4M2045.9 307.1L2056.5 317.7M2045.9 317.7L2056.5 307.1M2054.1 309.8L2070.1 309.8M2062.1 301.8L2062.1 317.8M2056.8 304.5L2067.4 315.1M2056.8 315.1L2067.4 304.5M2065 318.9L2081 318.9M2073 310.9L2073 326.9M2067.7 313.6L2078.3 324.2M2067.7 324.2L2078.3 313.6M2075.9 326.6L2091.9 326.6M2083.9 318.6L2083.9 334.6M2078.6 321.3L2089.2 331.9M2078.6 331.9L2089.2 321.3M2086.8 331.7L2102.8 331.7M2094.8 323.7L2094.8 339.7M2089.5 326.4L2100.1 337M2089.5 337L2100.1 326.4M2097.7 320.1L2113.7 320.1M2105.7 312.1L2105.7 328.1M2100.4 314.8L2111 325.4M2100.4 325.4L2111 314.8M2108.6 298.1L2124.6 298.1M2116.6 290.1L2116.6 306.1M2111.3 292.8L2121.9 303.4M2111.3 303.4L2121.9 292.8M2119.5 304.6L2135.5 304.6M2127.5 296.6L2127.5 312.6M2122.2 299.3L2132.8 309.9M2122.2 309.9L2132.8 299.3M2130.4 321.5L2146.4 321.5M2138.4 313.5L2138.4 329.5M2133.1 316.2L2143.7 326.8M2133.1 326.8L2143.7 316.2M2141.3 355.1L2157.3 355.1M2149.3 347.1L2149.3 363.1M2144 349.8L2154.6 360.4M2144 360.4L2154.6 349.8M2152.2 366.8L2168.2 366.8M2160.2 358.8L2160.2 374.8M2154.9 361.5L2165.5 372.1M2154.9 372.1L2165.5 361.5M2163.1 371.7L2179.1 371.7M2171.1 363.7L2171.1 379.7M2165.8 366.4L2176.4 377M2165.8 377L2176.4 366.4M2174 387.4L2190 387.4M2182 379.4L2182 395.4M2176.7 382.1L2187.3 392.7M2176.7 392.7L2187.3 382.1M2184.9 397.8L2200.9 397.8M2192.9 389.8L2192.9 405.8M2187.6 392.5L2198.2 403.1M2187.6 403.1L2198.2 392.5M2195.8 404.2L2211.8 404.2M2203.8 396.2L2203.8 412.2M2198.5 398.9L2209.1 409.5M2198.5 409.5L2209.1 398.9M2206.7 410.9L2222.7 410.9M2214.7 402.9L2214.7 418.9M2209.4 405.6L2220 416.2M2209.4 416.2L2220 405.6M2217.6 417.1L2233.6 417.1M2225.6 409.1L2225.6 425.1M2220.3 411.8L2230.9 422.4M2220.3 422.4L2230.9 411.8M2228.5 423.6L2244.5 423.6M2236.5 415.6L2236.5 431.6M2231.2 418.3L2241.8 428.9M2231.2 428.9L2241.8 418.3M2239.4 428.7L2255.4 428.7M2247.4 420.7L2247.4 436.7M2242.1 423.4L2252.7 434M2242.1 434L2252.7 423.4M2250.3 441.8L2266.3 441.8M2258.3 433.8L2258.3 449.8M2253 436.5L2263.6 447.1M2253 447.1L2263.6 436.5M2261.2 436.1L2277.2 436.1M2269.2 428.1L2269.2 444.1M2263.9 430.8L2274.5 441.4M2263.9 441.4L2274.5 430.8M2272.1 408.2L2288.1 408.2M2280.1 400.2L2280.1 416.2M2274.8 402.9L2285.4 413.5M2274.8 413.5L2285.4 402.9M2283 415.9L2299 415.9M2291 407.9L2291 423.9M2285.7 410.6L2296.3 421.2M2285.7 421.2L2296.3 410.6M2293.9 423.6L2309.9 423.6M2301.9 415.6L2301.9 431.6M2296.6 418.3L2307.2 428.9M2296.6 428.9L2307.2 418.3M2304.8 427.6L2320.8 427.6M2312.8 419.6L2312.8 435.6M2307.5 422.3L2318.1 432.9M2307.5 432.9L2318.1 422.3M2315.7 422.5L2331.7 422.5M2323.7 414.5L2323.7 430.5M2318.4 417.2L2329 427.8M2318.4 427.8L2329 417.2M2326.6 419.8L2342.6 419.8M2334.6 411.8L2334.6 427.8M2329.3 414.5L2339.9 425.1M2329.3 425.1L2339.9 414.5" fill="none" stroke="#00ff00" stroke-width="4.0" stroke-linejoin="miter" stroke-linecap="butt" shape-rendering="crispEdges"/>
<polyline clip-path="url(#clip1)" points="165.4,16.6 176.3,332.9 187.2,596.1 198.1,720.7 209,784.8 219.9,819.5 230.8,835.5 241.7,842.6 252.6,855.1 263.5,857.7 274.4,864.9 285.3,871.1 296.2,875.5 307.1,878.2 318,880.9 328.9,882.7 339.8,884.4 350.7,886.2 361.6,888 372.5,888.9 383.4,890.7 394.3,892.5 405.2,894.2 416.1,895.1 427,896 437.9,897.8 448.8,898.7 459.7,899.6 470.6,899.8 481.5,899.9 492.4,900.1 503.3,900.3 514.2,900.5 525.1,900.2 536,899.9 546.9,899.6 557.8,899.4 568.7,899.1 579.6,898.9 590.5,898.7 601.4,896.7 612.3,894.8 623.2,892.8 634.1,890.9 645,888.9 655.9,887.1 666.8,885.3 677.7,883.6 688.6,881.8 699.5,880 710.4,878.2 721.3,876.4 732.2,874.7 743.1,872.9 754,871.1 764.9,868.4 775.8,865.8 786.7,864 797.6,863.1 808.5,863.1 819.4,863.1 830.3,863.1 841.2,863.1 852.1,863.1 863,862.2 873.9,862.2 884.8,860.4 895.7,858.6 906.6,856 917.5,853.3 928.4,850.6 939.3,847.1 950.2,843.5 961.1,839.9 972,835.5 982.9,831 993.8,826.6 1004.7,821.2 1015.6,817.7 1026.5,814.1 1037.4,807 1048.3,790.5 1059.2,782.1 1070.1,774.1 1081,763.4 1091.9,756.3 1102.8,748.3 1113.7,739.7 1124.6,728 1135.5,715 1146.4,705.5 1157.3,697.3 1168.2,687.7 1179.1,679.7 1190,669.9 1200.9,660.7 1211.8,648.8 1222.7,639.7 1233.6,629.9 1244.5,620.5 1255.5,612.1 1266.4,603.2 1277.3,593.4 1288.2,585.4 1299.1,578.3 1310,572 1320.9,566.1 1331.8,562.7 1342.7,560.4 1353.6,559.1 1364.5,561.3 1375.4,567.6 1386.3,579.1 1397.2,594.5 1408.1,615.6 1419,643.2 1429.9,685.4 1440.8,756.4 1451.7,745.1 1462.6,746.5 1473.5,735.4 1484.4,733.1 1495.3,733.4 1506.2,726 1517.1,729.6 1528,722.4 1538.9,722.4 1549.8,721.8 1560.7,719.8 1571.6,715.3 1582.5,714.1 1593.4,709.1 1604.3,702 1615.2,700.2 1626.1,698.4 1637,690.9 1647.9,688.6 1658.8,688.6 1669.7,682.4 1680.6,672.6 1691.5,665.5 1702.4,662.6 1713.3,656.2 1724.2,650.3 1735.1,646.8 1746,649.2 1756.9,649.5 1767.8,647.9 1778.7,643.2 1789.6,640.9 1800.5,632.5 1811.4,629 1822.3,627.9 1833.2,623.2 1844.1,618.3 1855,612.5 1865.9,608.1 1876.8,602.7 1887.7,602.1 1898.6,600.5 1909.5,596.9 1920.4,593.1 1931.3,590.7 1942.2,588 1953.1,584 1964,582.7 1974.9,581.5 1985.8,577.4 1996.7,575 2007.6,572.5 2018.5,568.5 2029.4,564.6 2040.3,562.2 2051.2,560 2062.1,559 2073,559 2083.9,559.6 2094.8,561.6 2105.7,562.6 2116.6,562.2 2127.5,561.6 2138.4,561.6 2149.3,560.8 2160.2,559 2171.1,556.9 2182,554.2 2192.9,551.7 2203.8,549.1 2214.7,546.6 2225.6,542.6 2236.5,538.8 2247.4,536.7 2258.3,534.9 2269.2,533.7 2280.1,532.3 2291,530.5 2301.9,529.7 2312.8,528.9 2323.7,528 2334.6,526.6" fill="none" stroke="#ff00ff" stroke-width="4.0" stroke-linejoin="miter" shape-rendering="crispEdges"/>
<path d="M170.9 327.5L181.7 338.3M170.9 338.3L181.7 327.5M181.8 590.7L192.6 601.5M181.8 601.5L192.6 590.7M192.7 715.3L203.5 726.1M192.7 726.1L203.5 715.3M203.6 779.4L214.4 790.2M203.6 790.2L214.4 779.4M214.5 814.1L225.3 824.9M214.5 824.9L225.3 814.1M225.4 830.1L236.2 840.9M225.4 840.9L236.2 830.1M236.3 837.2L247.1 848M236.3 848L247.1 837.2M247.2 849.7L258 860.5M247.2 860.5L258 849.7M258.1 852.3L268.9 863.1M258.1 863.1L268.9 852.3M269 859.5L279.8 870.3M269 870.3L279.8 859.5M279.9 865.7L290.7 876.5M279.9 876.5L290.7 865.7M290.8 870.1L301.6 880.9M290.8 880.9L301.6 870.1M301.7 872.8L312.5 883.6M301.7 883.6L312.5 872.8M312.6 875.5L323.4 886.3M312.6 886.3L323.4 875.5M323.5 877.3L334.3 888.1M323.5 888.1L334.3 877.3M334.4 879L345.2 889.8M334.4 889.8L345.2 879M345.3 880.8L356.1 891.6M345.3 891.6L356.1 880.8M356.2 882.6L367 893.4M356.2 893.4L367 882.6M367.1 883.5L377.9 894.3M367.1 894.3L377.9 883.5M378 885.3L388.8 896.1M378 896.1L388.8 885.3M388.9 887.1L399.7 897.9M388.9 897.9L399.7 887.1M399.8 888.8L410.6 899.6M399.8 899.6L410.6 888.8M410.7 889.7L421.5 900.5M410.7 900.5L421.5 889.7M421.6 890.6L432.4 901.4M421.6 901.4L432.4 890.6M432.5 892.4L443.3 903.2M432.5 903.2L443.3 892.4M443.4 893.3L454.2 904.1M443.4 904.1L454.2 893.3M454.3 894.2L465.1 905M454.3 905L465.1 894.2M465.2 894.4L476 905.2M465.2 905.2L476 894.4M476.1 894.5L486.9 905.3M476.1 905.3L486.9 894.5M487 894.7L497.8 905.5M487 905.5L497.8 894.7M497.9 894.9L508.7 905.7M497.9 905.7L508.7 894.9M508.8 895.1L519.6 905.9M508.8 905.9L519.6 895.1M519.7 894.8L530.5 905.6M519.7 905.6L530.5 894.8M530.6 894.5L541.4 905.3M530.6 905.3L541.4 894.5M541.5 894.2L552.3 905M541.5 905L552.3 894.2M552.4 894L563.2 904.8M552.4 904.8L563.2 894M563.3 893.7L574.1 904.5M563.3 904.5L574.1 893.7M574.2 893.5L585 904.3M574.2 904.3L585 893.5M585.1 893.3L595.9 904.1M585.1 904.1L595.9 893.3M596 891.3L606.8 902.1M596 902.1L606.8 891.3M606.9 889.4L617.7 900.2M606.9 900.2L617.7 889.4M617.8 887.4L628.6 898.2M617.8 898.2L628.6 887.4M628.7 885.5L639.5 896.3M628.7 896.3L639.5 885.5M639.6 883.5L650.4 894.3M639.6 894.3L650.4 883.5M650.5 881.7L661.3 892.5M650.5 892.5L661.3 881.7M661.4 879.9L672.2 890.7M661.4 890.7L672.2 879.9M672.3 878.2L683.1 889M672.3 889L683.1 878.2M683.2 876.4L694 887.2M683.2 887.2L694 876.4M694.1 874.6L704.9 885.4M694.1 885.4L704.9 874.6M705 872.8L715.8 883.6M705 883.6L715.8 872.8M715.9 871L726.7 881.8M715.9 881.8L726.7 871M726.8 869.3L737.6 880.1M726.8 880.1L737.6 869.3M737.7 867.5L748.5 878.3M737.7 878.3L748.5 867.5M748.6 865.7L759.4 876.5M748.6 876.5L759.4 865.7M759.5 863L770.3 873.8M759.5 873.8L770.3 863M770.4 860.4L781.2 871.2M770.4 871.2L781.2 860.4M781.3 858.6L792.1 869.4M781.3 869.4L792.1 858.6M792.2 857.7L803 868.5M792.2 868.5L803 857.7M803.1 857.7L813.9 868.5M803.1 868.5L813.9 857.7M814 857.7L824.8 868.5M814 868.5L824.8 857.7M824.9 857.7L835.7 868.5M824.9 868.5L835.7 857.7M835.8 857.7L846.6 868.5M835.8 868.5L846.6 857.7M846.7 857.7L857.5 868.5M846.7 868.5L857.5 857.7M857.6 856.8L868.4 867.6M857.6 867.6L868.4 856.8M868.5 856.8L879.3 867.6M868.5 867.6L879.3 856.8M879.4 855L890.2 865.8M879.4 865.8L890.2 855M890.3 853.2L901.1 864M890.3 864L901.1 853.2M901.2 850.6L912 861.4M901.2 861.4L912 850.6M912.1 847.9L922.9 858.7M912.1 858.7L922.9 847.9M923 845.2L933.8 856M923 856L933.8 845.2M933.9 841.7L944.7 852.5M933.9 852.5L944.7 841.7M944.8 838.1L955.6 848.9M944.8 848.9L955.6 838.1M955.7 834.5L966.5 845.3M955.7 845.3L966.5 834.5M966.6 830.1L977.4 840.9M966.6 840.9L977.4 830.1M977.5 825.6L988.3 836.4M977.5 836.4L988.3 825.6M988.4 821.2L999.2 832M988.4 832L999.2 821.2M999.3 815.8L1010.1 826.6M999.3 826.6L1010.1 815.8M1010.2 812.3L1021 823.1M1010.2 823.1L1021 812.3M1021.1 808.7L1031.9 819.5M1021.1 819.5L1031.9 808.7M1032 801.6L1042.8 812.4M1032 812.4L1042.8 801.6M1042.9 785.1L1053.7 795.9M1042.9 795.9L1053.7 785.1M1053.8 776.7L1064.6 787.5M1053.8 787.5L1064.6 776.7M1064.7 768.7L1075.5 779.5M1064.7 779.5L1075.5 768.7M1075.6 758L1086.4 768.8M1075.6 768.8L1086.4 758M1086.5 750.9L1097.3 761.7M1086.5 761.7L1097.3 750.9M1097.4 742.9L1108.2 753.7M1097.4 753.7L1108.2 742.9M1108.3 734.3L1119.1 745.1M1108.3 745.1L1119.1 734.3M1119.2 722.6L1130 733.4M1119.2 733.4L1130 722.6M1130.1 709.6L1140.9 720.4M1130.1 720.4L1140.9 709.6M1141 700.1L1151.8 710.9M1141 710.9L1151.8 700.1M1151.9 691.9L1162.7 702.7M1151.9 702.7L1162.7 691.9M1162.8 682.3L1173.6 693.1M1162.8 693.1L1173.6 682.3M1173.7 674.3L1184.5 685.1M1173.7 685.1L1184.5 674.3M1184.6 664.5L1195.4 675.3M1184.6 675.3L1195.4 664.5M1195.5 655.3L1206.3 666.1M1195.5 666.1L1206.3 655.3M1206.4 643.4L1217.2 654.2M1206.4 654.2L1217.2 643.4M1217.3 634.3L1228.1 645.1M1217.3 645.1L1228.1 634.3M1228.2 624.5L1239 635.3M1228.2 635.3L1239 624.5M1239.1 615.1L1250 625.9M1239.1 625.9L1250 615.1M1250.1 606.7L1260.9 617.5M1250.1 617.5L1260.9 606.7M1261 597.8L1271.8 608.6M1261 608.6L1271.8 597.8M1271.9 588L1282.7 598.8M1271.9 598.8L1282.7 588M1282.8 580L1293.6 590.8M1282.8 590.8L1293.6 580M1293.7 572.9L1304.5 583.7M1293.7 583.7L1304.5 572.9M1304.6 566.6L1315.4 577.4M1304.6 577.4L1315.4 566.6M1315.5 560.7L1326.3 571.5M1315.5 571.5L1326.3 560.7M1326.4 557.3L1337.2 568.1M1326.4 568.1L1337.2 557.3M1337.3 555L1348.1 565.8M1337.3 565.8L1348.1 555M1348.2 553.7L1359 564.5M1348.2 564.5L1359 553.7M1359.1 555.9L1369.9 566.7M1359.1 566.7L1369.9 555.9M1370 562.2L1380.8 573M1370 573L1380.8 562.2M1380.9 573.7L1391.7 584.5M1380.9 584.5L1391.7 573.7M1391.8 589.1L1402.6 599.9M1391.8 599.9L1402.6 589.1M1402.7 610.2L1413.5 621M1402.7 621L1413.5 610.2M1413.6 637.8L1424.4 648.6M1413.6 648.6L1424.4 637.8M1424.5 680L1435.3 690.8M1424.5 690.8L1435.3 680M1435.4 751L1446.2 761.8M1435.4 761.8L1446.2 751M1446.3 739.7L1457.1 750.5M1446.3 750.5L1457.1 739.7M1457.2 741.1L1468 751.9M1457.2 751.9L1468 741.1M1468.1 730L1478.9 740.8M1468.1 740.8L1478.9 730M1479 727.7L1489.8 738.5M1479 738.5L1489.8 727.7M1489.9 728L1500.7 738.8M1489.9 738.8L1500.7 728M1500.8 720.6L1511.6 731.4M1500.8 731.4L1511.6 720.6M1511.7 724.2L1522.5 735M1511.7 735L1522.5 724.2M1522.6 717L1533.4 727.8M1522.6 727.8L1533.4 717M1533.5 717L1544.3 727.8M1533.5 727.8L1544.3 717M1544.4 716.4L1555.2 727.2M1544.4 727.2L1555.2 716.4M1555.3 714.4L1566.1 725.2M1555.3 725.2L1566.1 714.4M1566.2 709.9L1577 720.7M1566.2 720.7L1577 709.9M1577.1 708.7L1587.9 719.5M1577.1 719.5L1587.9 708.7M1588 703.7L1598.8 714.5M1588 714.5L1598.8 703.7M1598.9 696.6L1609.7 707.4M1598.9 707.4L1609.7 696.6M1609.8 694.8L1620.6 705.6M1609.8 705.6L1620.6 694.8M1620.7 693L1631.5 703.8M1620.7 703.8L1631.5 693M1631.6 685.5L1642.4 696.3M1631.6 696.3L1642.4 685.5M1642.5 683.2L1653.3 694M1642.5 694L1653.3 683.2M1653.4 683.2L1664.2 694M1653.4 694L1664.2 683.2M1664.3 677L1675.1 687.8M1664.3 687.8L1675.1 677M1675.2 667.2L1686 678M1675.2 678L1686 667.2M1686.1 660.1L1696.9 670.9M1686.1 670.9L1696.9 660.1M1697 657.2L1707.8 668M1697 668L1707.8 657.2M1707.9 650.8L1718.7 661.6M1707.9 661.6L1718.7 650.8M1718.8 644.9L1729.6 655.7M1718.8 655.7L1729.6 644.9M1729.7 641.4L1740.5 652.2M1729.7 652.2L1740.5 641.4M1740.6 643.8L1751.4 654.6M1740.6 654.6L1751.4 643.8M1751.5 644.1L1762.3 654.9M1751.5 654.9L1762.3 644.1M1762.4 642.5L1773.2 653.3M1762.4 653.3L1773.2 642.5M1773.3 637.8L1784.1 648.6M1773.3 648.6L1784.1 637.8M1784.2 635.5L1795 646.3M1784.2 646.3L1795 635.5M1795.1 627.1L1805.9 637.9M1795.1 637.9L1805.9 627.1M1806 623.6L1816.8 634.4M1806 634.4L1816.8 623.6M1816.9 622.5L1827.7 633.3M1816.9 633.3L1827.7 622.5M1827.8 617.8L1838.6 628.6M1827.8 628.6L1838.6 617.8M1838.7 612.9L1849.5 623.7M1838.7 623.7L1849.5 612.9M1849.6 607.1L1860.4 617.9M1849.6 617.9L1860.4 607.1M1860.5 602.7L1871.3 613.5M1860.5 613.5L1871.3 602.7M1871.4 597.3L1882.2 608.1M1871.4 608.1L1882.2 597.3M1882.3 596.7L1893.1 607.5M1882.3 607.5L1893.1 596.7M1893.2 595.1L1904 605.9M1893.2 605.9L1904 595.1M1904.1 591.5L1914.9 602.3M1904.1 602.3L1914.9 591.5M1915 587.7L1925.8 598.5M1915 598.5L1925.8 587.7M1925.9 585.3L1936.7 596.1M1925.9 596.1L1936.7 585.3M1936.8 582.6L1947.6 593.4M1936.8 593.4L1947.6 582.6M1947.7 578.6L1958.5 589.4M1947.7 589.4L1958.5 578.6M1958.6 577.3L1969.4 588.1M1958.6 588.1L1969.4 577.3M1969.5 576.1L1980.3 586.9M1969.5 586.9L1980.3 576.1M1980.4 572L1991.2 582.8M1980.4 582.8L1991.2 572M1991.3 569.6L2002.1 580.4M1991.3 580.4L2002.1 569.6M2002.2 567.1L2013 577.9M2002.2 577.9L2013 567.1M2013.1 563.1L2023.9 573.9M2013.1 573.9L2023.9 563.1M2024 559.2L2034.8 570M2024 570L2034.8 559.2M2034.9 556.8L2045.7 567.6M2034.9 567.6L2045.7 556.8M2045.8 554.6L2056.6 565.4M2045.8 565.4L2056.6 554.6M2056.7 553.6L2067.5 564.4M2056.7 564.4L2067.5 553.6M2067.6 553.6L2078.4 564.4M2067.6 564.4L2078.4 553.6M2078.5 554.2L2089.3 565M2078.5 565L2089.3 554.2M2089.4 556.2L2100.2 567M2089.4 567L2100.2 556.2M2100.3 557.2L2111.1 568M2100.3 568L2111.1 557.2M2111.2 556.8L2122 567.6M2111.2 567.6L2122 556.8M2122.1 556.2L2132.9 567M2122.1 567L2132.9 556.2M2133 556.2L2143.8 567M2133 567L2143.8 556.2M2143.9 555.4L2154.7 566.2M2143.9 566.2L2154.7 555.4M2154.8 553.6L2165.6 564.4M2154.8 564.4L2165.6 553.6M2165.7 551.5L2176.5 562.3M2165.7 562.3L2176.5 551.5M2176.6 548.8L2187.4 559.6M2176.6 559.6L2187.4 548.8M2187.5 546.3L2198.3 557.1M2187.5 557.1L2198.3 546.3M2198.4 543.7L2209.2 554.5M2198.4 554.5L2209.2 543.7M2209.3 541.2L2220.1 552M2209.3 552L2220.1 541.2M2220.2 537.2L2231 548M2220.2 548L2231 537.2M2231.1 533.4L2241.9 544.2M2231.1 544.2L2241.9 533.4M2242 531.3L2252.8 542.1M2242 542.1L2252.8 531.3M2252.9 529.5L2263.7 540.3M2252.9 540.3L2263.7 529.5M2263.8 528.3L2274.6 539.1M2263.8 539.1L2274.6 528.3M2274.7 526.9L2285.5 537.7M2274.7 537.7L2285.5 526.9M2285.6 525.1L2296.4 535.9M2285.6 535.9L2296.4 525.1M2296.5 524.3L2307.3 535.1M2296.5 535.1L2307.3 524.3M2307.4 523.5L2318.2 534.3M2307.4 534.3L2318.2 523.5M2318.3 522.6L2329.1 533.4M2318.3 533.4L2329.1 522.6M2329.2 521.2L2340 532M2329.2 532L2340 521.2" fill="none" stroke="#ff00ff" stroke-width="4.0" stroke-linejoin="miter" stroke-linecap="butt" shape-rendering="crispEdges"/>
<polyline clip-path="url(#clip1)" points="165.4,653 176.3,747.4 187.2,793.7 198.1,809.7 209,816.8 219.9,816.8 230.8,816.8 241.7,819.8 252.6,831 263.5,831 274.4,839.4 285.3,850.6 296.2,857.7 307.1,862.2 318,865.8 328.9,869.3 339.8,872 350.7,873.8 361.6,875.5 372.5,877.6 383.4,880 394.3,882.7 405.2,885.3 416.1,887.1 427,888.9 437.9,890.7 448.8,892.5 459.7,893.3 470.6,894.2 481.5,894.2 492.4,895.1 503.3,895.1 514.2,896 525.1,896 536,896.5 546.9,896.9 557.8,896.9 568.7,897.8 579.6,897.8 590.5,897.8 601.4,896 612.3,894.2 623.2,893.3 634.1,891.6 645,890.7 655.9,888.9 666.8,888 677.7,886.2 688.6,884.4 699.5,882.9 710.4,882.7 721.3,881.8 732.2,880.9 743.1,880 754,879.1 764.9,877.3 775.8,875.5 786.7,873.8 797.6,872 808.5,871.1 819.4,871.1 830.3,871.1 841.2,870.2 852.1,870.2 863,870.2 873.9,870.2 884.8,869.3 895.7,869.3 906.6,868.4 917.5,868.4 928.4,867.5 939.3,866.2 950.2,868.4 961.1,868.4 972,868.9 982.9,868.9 993.8,868.9 1004.7,868.9 1015.6,868.4 1026.5,866.6 1037.4,866.6 1048.3,866.6 1059.2,838.2 1070.1,858.3 1081,856 1091.9,856 1102.8,856 1113.7,855.1 1124.6,835.5 1135.5,846.4 1146.4,847.1 1157.3,846.4 1168.2,846.4 1179.1,845.3 1190,845.3 1200.9,844.4 1211.8,842.9 1222.7,841.7 1233.6,840.5 1244.5,839.4 1255.5,838.2 1266.4,835.8 1277.3,834.6 1288.2,834.2 1299.1,833.4 1310,832.3 1320.9,831 1331.8,828.7 1342.7,826.6 1353.6,823.9 1364.5,807.5 1375.4,820.4 1386.3,821.7 1397.2,821.7 1408.1,821.2 1419,820.4 1429.9,816.8 1440.8,804.7 1451.7,800.4 1462.6,784.3 1473.5,783.9 1484.4,785.6 1495.3,786.5 1506.2,784.8 1517.1,771.9 1528,775 1538.9,767.8 1549.8,771.4 1560.7,775.9 1571.6,778.3 1582.5,779.4 1593.4,777.1 1604.3,775.9 1615.2,775 1626.1,767.8 1637,764.3 1647.9,762.9 1658.8,761.6 1669.7,751.8 1680.6,760.7 1691.5,761.6 1702.4,761.6 1713.3,761.6 1724.2,761.6 1735.1,762.9 1746,762.9 1756.9,762.9 1767.8,762.9 1778.7,762.9 1789.6,762.9 1800.5,759.4 1811.4,745.2 1822.3,745.2 1833.2,750.9 1844.1,752.4 1855,752.7 1865.9,748.8 1876.8,747.4 1887.7,749.2 1898.6,750 1909.5,750 1920.4,749.2 1931.3,747.4 1942.2,746 1953.1,744.7 1964,743.5 1974.9,742.9 1985.8,742.9 1996.7,742 2007.6,741.1 2018.5,740.2 2029.4,738.8 2040.3,737.6 2051.2,737 2062.1,736.2 2073,735.2 2083.9,725.4 2094.8,724.2 2105.7,716.2 2116.6,715.1 2127.5,713.8 2138.4,713 2149.3,710.9 2160.2,709.1 2171.1,707.3 2182,704.6 2192.9,700.7 2203.8,696.9 2214.7,694.3 2225.6,693.1 2236.5,690.4 2247.4,688.6 2258.3,686.6 2269.2,685.1 2280.1,679.7 2291,682.7 2301.9,684.5 2312.8,685.1 2323.7,683.3 2334.6,681.5" fill="none" stroke="#0000ff" stroke-width="4.0" stroke-linejoin="miter" shape-rendering="crispEdges"/>
<path d="M165.4 662.3L173.5 648.4L157.3 648.4ZM176.3 756.7L184.4 742.7L168.2 742.7ZM187.2 803L195.3 789L179.1 789ZM198.1 819L206.2 805L190 805ZM209 826.1L217.1 812.1L200.9 812.1ZM219.9 826.1L228 812.1L211.8 812.1ZM230.8 826.1L238.9 812.1L222.7 812.1ZM241.7 829.1L249.8 815.2L233.6 815.2ZM252.6 840.3L260.7 826.4L244.6 826.4ZM263.5 840.3L271.6 826.4L255.5 826.4ZM274.4 848.7L282.5 834.8L266.4 834.8ZM285.3 859.9L293.4 846L277.3 846ZM296.2 867L304.3 853.1L288.2 853.1ZM307.1 871.5L315.2 857.5L299.1 857.5ZM318 875.1L326.1 861.1L310 861.1ZM328.9 878.6L337 864.7L320.9 864.7ZM339.8 881.3L347.9 867.3L331.8 867.3ZM350.7 883.1L358.8 869.1L342.7 869.1ZM361.6 884.8L369.7 870.9L353.6 870.9ZM372.5 886.9L380.6 872.9L364.5 872.9ZM383.4 889.3L391.5 875.3L375.4 875.3ZM394.3 892L402.4 878L386.3 878ZM405.2 894.6L413.3 880.7L397.2 880.7ZM416.1 896.4L424.2 882.5L408.1 882.5ZM427 898.2L435.1 884.2L419 884.2ZM437.9 900L446 886L429.9 886ZM448.8 901.8L456.9 887.8L440.8 887.8ZM459.7 902.6L467.8 888.7L451.7 888.7ZM470.6 903.5L478.7 889.6L462.6 889.6ZM481.5 903.5L489.6 889.6L473.5 889.6ZM492.4 904.4L500.5 890.5L484.4 890.5ZM503.3 904.4L511.4 890.5L495.3 890.5ZM514.2 905.3L522.3 891.4L506.2 891.4ZM525.1 905.3L533.2 891.4L517.1 891.4ZM536 905.8L544.1 891.8L528 891.8ZM546.9 906.2L555 892.3L538.9 892.3ZM557.8 906.2L565.9 892.3L549.8 892.3ZM568.7 907.1L576.8 893.1L560.7 893.1ZM579.6 907.1L587.7 893.1L571.6 893.1ZM590.5 907.1L598.6 893.1L582.5 893.1ZM601.4 905.3L609.5 891.4L593.4 891.4ZM612.3 903.5L620.4 889.6L604.3 889.6ZM623.2 902.6L631.3 888.7L615.2 888.7ZM634.1 900.9L642.2 886.9L626.1 886.9ZM645 900L653.1 886L637 886ZM655.9 898.2L664 884.2L647.9 884.2ZM666.8 897.3L674.9 883.4L658.8 883.4ZM677.7 895.5L685.8 881.6L669.7 881.6ZM688.6 893.7L696.7 879.8L680.6 879.8ZM699.5 892.2L707.6 878.3L691.5 878.3ZM710.4 892L718.5 878L702.4 878ZM721.3 891.1L729.4 877.1L713.3 877.1ZM732.2 890.2L740.3 876.2L724.2 876.2ZM743.1 889.3L751.2 875.3L735.1 875.3ZM754 888.4L762.1 874.5L746 874.5ZM764.9 886.6L773 872.7L756.9 872.7ZM775.8 884.8L783.9 870.9L767.8 870.9ZM786.7 883.1L794.8 869.1L778.7 869.1ZM797.6 881.3L805.7 867.3L789.6 867.3ZM808.5 880.4L816.6 866.4L800.5 866.4ZM819.4 880.4L827.5 866.4L811.4 866.4ZM830.3 880.4L838.4 866.4L822.3 866.4ZM841.2 879.5L849.3 865.6L833.2 865.6ZM852.1 879.5L860.2 865.6L844.1 865.6ZM863 879.5L871.1 865.6L855 865.6ZM873.9 879.5L882 865.6L865.9 865.6ZM884.8 878.6L892.9 864.7L876.8 864.7ZM895.7 878.6L903.8 864.7L887.7 864.7ZM906.6 877.7L914.7 863.8L898.6 863.8ZM917.5 877.7L925.6 863.8L909.5 863.8ZM928.4 876.8L936.5 862.9L920.4 862.9ZM939.3 875.5L947.4 861.5L931.3 861.5ZM950.2 877.7L958.3 863.8L942.2 863.8ZM961.1 877.7L969.2 863.8L953.1 863.8ZM972 878.2L980.1 864.2L964 864.2ZM982.9 878.2L991 864.2L974.9 864.2ZM993.8 878.2L1001.9 864.2L985.8 864.2ZM1004.7 878.2L1012.8 864.2L996.7 864.2ZM1015.6 877.7L1023.7 863.8L1007.6 863.8ZM1026.5 875.9L1034.6 862L1018.5 862ZM1037.4 875.9L1045.5 862L1029.4 862ZM1048.3 875.9L1056.4 862L1040.3 862ZM1059.2 847.5L1067.3 833.5L1051.2 833.5ZM1070.1 867.6L1078.2 853.6L1062.1 853.6ZM1081 865.3L1089.1 851.3L1073 851.3ZM1091.9 865.3L1100 851.3L1083.9 851.3ZM1102.8 865.3L1110.9 851.3L1094.8 851.3ZM1113.7 864.4L1121.8 850.4L1105.7 850.4ZM1124.6 844.8L1132.7 830.8L1116.6 830.8ZM1135.5 855.7L1143.6 841.8L1127.5 841.8ZM1146.4 856.4L1154.5 842.4L1138.4 842.4ZM1157.3 855.7L1165.4 841.8L1149.3 841.8ZM1168.2 855.7L1176.3 841.8L1160.2 841.8ZM1179.1 854.6L1187.2 840.6L1171.1 840.6ZM1190 854.6L1198.1 840.6L1182 840.6ZM1200.9 853.7L1209 839.7L1192.9 839.7ZM1211.8 852.2L1219.9 838.2L1203.8 838.2ZM1222.7 851L1230.8 837.1L1214.7 837.1ZM1233.6 849.8L1241.7 835.8L1225.6 835.8ZM1244.5 848.7L1252.6 834.8L1236.5 834.8ZM1255.5 847.5L1263.5 833.5L1247.4 833.5ZM1266.4 845.1L1274.4 831.1L1258.3 831.1ZM1277.3 843.9L1285.3 829.9L1269.2 829.9ZM1288.2 843.5L1296.2 829.5L1280.1 829.5ZM1299.1 842.7L1307.1 828.8L1291 828.8ZM1310 841.6L1318 827.6L1301.9 827.6ZM1320.9 840.3L1328.9 826.4L1312.8 826.4ZM1331.8 838L1339.8 824.1L1323.7 824.1ZM1342.7 835.9L1350.7 821.9L1334.6 821.9ZM1353.6 833.2L1361.6 819.3L1345.5 819.3ZM1364.5 816.8L1372.5 802.9L1356.4 802.9ZM1375.4 829.7L1383.4 815.7L1367.3 815.7ZM1386.3 831L1394.3 817L1378.2 817ZM1397.2 831L1405.2 817L1389.1 817ZM1408.1 830.5L1416.1 816.6L1400 816.6ZM1419 829.7L1427 815.7L1410.9 815.7ZM1429.9 826.1L1437.9 812.1L1421.8 812.1ZM1440.8 814L1448.8 800L1432.7 800ZM1451.7 809.7L1459.7 795.8L1443.6 795.8ZM1462.6 793.6L1470.6 779.7L1454.5 779.7ZM1473.5 793.2L1481.5 779.2L1465.4 779.2ZM1484.4 794.9L1492.4 781L1476.3 781ZM1495.3 795.8L1503.3 781.9L1487.2 781.9ZM1506.2 794.1L1514.2 780.1L1498.1 780.1ZM1517.1 781.2L1525.1 767.3L1509 767.3ZM1528 784.3L1536 770.3L1519.9 770.3ZM1538.9 777.1L1546.9 763.2L1530.8 763.2ZM1549.8 780.7L1557.8 766.8L1541.7 766.8ZM1560.7 785.2L1568.7 771.2L1552.6 771.2ZM1571.6 787.6L1579.6 773.6L1563.5 773.6ZM1582.5 788.7L1590.5 774.8L1574.4 774.8ZM1593.4 786.4L1601.4 772.4L1585.3 772.4ZM1604.3 785.2L1612.3 771.2L1596.2 771.2ZM1615.2 784.3L1623.2 770.3L1607.1 770.3ZM1626.1 777.1L1634.1 763.2L1618 763.2ZM1637 773.6L1645 759.6L1628.9 759.6ZM1647.9 772.2L1655.9 758.3L1639.8 758.3ZM1658.8 770.9L1666.8 757L1650.7 757ZM1669.7 761.1L1677.7 747.2L1661.6 747.2ZM1680.6 770L1688.6 756.1L1672.5 756.1ZM1691.5 770.9L1699.5 757L1683.4 757ZM1702.4 770.9L1710.4 757L1694.3 757ZM1713.3 770.9L1721.3 757L1705.2 757ZM1724.2 770.9L1732.2 757L1716.1 757ZM1735.1 772.2L1743.1 758.3L1727 758.3ZM1746 772.2L1754 758.3L1737.9 758.3ZM1756.9 772.2L1764.9 758.3L1748.8 758.3ZM1767.8 772.2L1775.8 758.3L1759.7 758.3ZM1778.7 772.2L1786.7 758.3L1770.6 758.3ZM1789.6 772.2L1797.6 758.3L1781.5 758.3ZM1800.5 768.7L1808.5 754.7L1792.4 754.7ZM1811.4 754.5L1819.4 740.6L1803.3 740.6ZM1822.3 754.5L1830.3 740.6L1814.2 740.6ZM1833.2 760.2L1841.2 746.3L1825.1 746.3ZM1844.1 761.7L1852.1 747.7L1836 747.7ZM1855 762L1863 748.1L1846.9 748.1ZM1865.9 758.1L1873.9 744.1L1857.8 744.1ZM1876.8 756.7L1884.8 742.7L1868.7 742.7ZM1887.7 758.5L1895.7 744.5L1879.6 744.5ZM1898.6 759.3L1906.6 745.4L1890.5 745.4ZM1909.5 759.3L1917.5 745.4L1901.4 745.4ZM1920.4 758.5L1928.4 744.5L1912.3 744.5ZM1931.3 756.7L1939.3 742.7L1923.2 742.7ZM1942.2 755.3L1950.2 741.4L1934.1 741.4ZM1953.1 754L1961.1 740L1945 740ZM1964 752.8L1972 738.8L1955.9 738.8ZM1974.9 752.2L1982.9 738.3L1966.8 738.3ZM1985.8 752.2L1993.8 738.3L1977.7 738.3ZM1996.7 751.3L2004.7 737.4L1988.6 737.4ZM2007.6 750.4L2015.6 736.5L1999.5 736.5ZM2018.5 749.5L2026.5 735.6L2010.4 735.6ZM2029.4 748.1L2037.4 734.2L2021.3 734.2ZM2040.3 746.9L2048.3 732.9L2032.2 732.9ZM2051.2 746.3L2059.2 732.4L2043.1 732.4ZM2062.1 745.5L2070.1 731.6L2054 731.6ZM2073 744.5L2081 730.5L2064.9 730.5ZM2083.9 734.7L2091.9 720.7L2075.8 720.7ZM2094.8 733.5L2102.8 719.6L2086.7 719.6ZM2105.7 725.5L2113.7 711.6L2097.6 711.6ZM2116.6 724.4L2124.6 710.4L2108.5 710.4ZM2127.5 723.1L2135.5 709.2L2119.4 709.2ZM2138.4 722.3L2146.4 708.4L2130.3 708.4ZM2149.3 720.2L2157.3 706.2L2141.2 706.2ZM2160.2 718.4L2168.2 704.4L2152.1 704.4ZM2171.1 716.6L2179.1 702.7L2163 702.7ZM2182 713.9L2190 700L2173.9 700ZM2192.9 710L2200.9 696.1L2184.8 696.1ZM2203.8 706.2L2211.8 692.3L2195.7 692.3ZM2214.7 703.6L2222.7 689.7L2206.6 689.7ZM2225.6 702.4L2233.6 688.4L2217.5 688.4ZM2236.5 699.7L2244.5 685.8L2228.4 685.8ZM2247.4 697.9L2255.5 684L2239.3 684ZM2258.3 695.9L2266.4 681.9L2250.2 681.9ZM2269.2 694.4L2277.3 680.4L2261.1 680.4ZM2280.1 689L2288.2 675.1L2272 675.1ZM2291 692L2299.1 678L2282.9 678ZM2301.9 693.8L2310 679.9L2293.8 679.9ZM2312.8 694.4L2320.9 680.4L2304.7 680.4ZM2323.7 692.6L2331.8 678.6L2315.6 678.6ZM2334.6 690.8L2342.7 676.9L2326.5 676.9Z" fill="none" stroke="#0000ff" stroke-width="4.0" stroke-linejoin="miter" stroke-linecap="butt" shape-rendering="crispEdges"/>
<g font-size="38" letter-spacing="0.9" fill="#262626"><text x="154.7" y="976.8" text-anchor="middle">0</text><text x="372.7" y="976.8" text-anchor="middle">20</text><text x="590.7" y="976.8" text-anchor="middle">40</text><text x="808.7" y="976.8" text-anchor="middle">60</text><text x="1026.7" y="976.8" text-anchor="middle">80</text><text x="1244.8" y="976.8" text-anchor="middle">100</text><text x="1462.8" y="976.8" text-anchor="middle">120</text><text x="1680.8" y="976.8" text-anchor="middle">140</text><text x="1898.8" y="976.8" text-anchor="middle">160</text><text x="2116.8" y="976.8" text-anchor="middle">180</text><text x="2334.8" y="976.8" text-anchor="middle">200</text><text x="142.3" y="939.1" text-anchor="end">0</text><text x="142.3" y="761.1" text-anchor="end">0.2</text><text x="142.3" y="583.1" text-anchor="end">0.4</text><text x="142.3" y="405" text-anchor="end">0.6</text><text x="142.3" y="227" text-anchor="end">0.8</text><text x="142.3" y="49" text-anchor="end">1</text></g>
<text x="1245.5" y="1032.7" text-anchor="middle" font-size="42" letter-spacing="0.6" fill="#262626">Time Steps</text>
<text transform="translate(69.6 477.9) rotate(-90)" text-anchor="middle" font-size="42" letter-spacing="0.6" fill="#262626">normalized Pos RMSE</text>
<rect x="2124.4" y="58.4" width="185.2" height="209.9" fill="#fff" stroke="#262626" stroke-width="1" shape-rendering="crispEdges"/>
<path d="M2131 87.1h55.8" stroke="#ff0000" stroke-width="4.0" fill="none"/>
<path d="M2158.9 77.8L2167 91.8L2150.8 91.8Z" fill="none" stroke="#ff0000" stroke-width="4.0"/>
<text x="2191.9" y="101.4" font-size="38.6" fill="#000">EKF</text>
<path d="M2131 137.9h55.8" stroke="#00ff00" stroke-width="4.0" fill="none"/>
<path d="M2150.9 137.9L2166.9 137.9M2158.9 129.9L2158.9 145.9M2153.6 132.6L2164.2 143.2M2153.6 143.2L2164.2 132.6" fill="none" stroke="#00ff00" stroke-width="4.0"/>
<text x="2191.9" y="152.2" font-size="38.6" fill="#000">IEKF</text>
<path d="M2131 188.7h55.8" stroke="#ff00ff" stroke-width="4.0" fill="none"/>
<path d="M2153.5 183.3L2164.3 194.1M2153.5 194.1L2164.3 183.3" fill="none" stroke="#ff00ff" stroke-width="4.0"/>
<text x="2191.9" y="203" font-size="38.6" fill="#000">RUF</text>
<path d="M2131 239.5h55.8" stroke="#0000ff" stroke-width="4.0" fill="none"/>
<path d="M2158.9 248.8L2167 234.8L2150.8 234.8Z" fill="none" stroke="#0000ff" stroke-width="4.0"/>
<text x="2191.9" y="253.8" font-size="38.6" fill="#000">NGDF</text>
<clipPath id="clip2"><rect x="143.5" y="1276.4" width="2191.2" height="890.1"/></clipPath>
<g stroke="#262626" stroke-width="1" fill="none" shape-rendering="crispEdges"><rect x="143.5" y="1276.4" width="2191.2" height="890.1"/><path d="M362.6 2166.5v-22M362.6 1276.4v22M581.7 2166.5v-22M581.7 1276.4v22M800.9 2166.5v-22M800.9 1276.4v22M1020 2166.5v-22M1020 1276.4v22M1239.1 2166.5v-22M1239.1 1276.4v22M1458.2 2166.5v-22M1458.2 1276.4v22M1677.3 2166.5v-22M1677.3 1276.4v22M1896.5 2166.5v-22M1896.5 1276.4v22M2115.6 2166.5v-22M2115.6 1276.4v22M143.5 1988.5h22M2334.7 1988.5h-22M143.5 1810.5h22M2334.7 1810.5h-22M143.5 1632.4h22M2334.7 1632.4h-22M143.5 1454.4h22M2334.7 1454.4h-22"/></g>
<polyline clip-path="url(#clip2)" points="154.5,2033 165.4,1581.7 176.4,1680 187.3,1861.6 198.3,1957.9 209.2,1999.5 220.2,2041.5 231.1,2068.6 242.1,2068.4 253.1,2090.5 264,2107.8 275,2118.9 285.9,2126.4 296.9,2130.9 307.8,2134.5 318.8,2137.1 329.8,2138.9 340.7,2141.6 351.7,2143.4 362.6,2146.9 373.6,2152.3 384.5,2153.1 395.5,2153.1 406.4,2153.6 417.4,2153.6 428.4,2154 439.3,2154 450.3,2154 461.2,2154 472.2,2154 483.1,2153.1 494.1,2118.4 505,2150.5 516,2150.5 527,2150.5 537.9,2094 548.9,2139.8 559.8,2130 570.8,2133.6 581.7,2130.9 592.7,2074.6 603.7,2134.5 614.6,2136.5 625.6,2141.6 636.5,2146 647.5,2146.9 658.4,2146.9 669.4,2146.9 680.3,2148.7 691.3,2126 702.3,2148.7 713.2,2146 724.2,2145.1 735.1,2139.8 746.1,2137.6 757,2141.1 768,2143.9 778.9,2147.8 789.9,2124 800.9,2130.2 811.8,2131.3 822.8,2126 833.7,2130.2 844.7,2128.1 855.6,2125 866.6,2126 877.6,2122 888.5,2114.1 899.5,2111.3 910.4,2094.5 921.4,2074.6 932.3,2083.6 943.3,2076.7 954.2,2075 965.2,2079.8 976.2,2071 987.1,2020.6 998.1,2002.6 1009,1858.5 1020,1918.6 1030.9,1895.5 1041.9,1926.2 1052.8,1930.8 1063.8,1957.5 1074.8,1956.8 1085.7,1956.8 1096.7,1940.4 1107.6,1924 1118.6,1963 1129.5,1936 1140.5,1987.8 1151.5,1957.3 1162.4,1997.7 1173.4,2005.8 1184.3,1990.9 1195.3,2009.9 1206.2,2025 1217.2,1987.8 1228.1,1893.8 1239.1,1994.9 1250.1,1994.9 1261,1945.8 1272,1986.7 1282.9,1931.5 1293.9,2002.7 1304.8,2043.1 1315.8,2037.3 1326.7,2014.6 1337.7,2013 1348.7,2019.6 1359.6,2031.5 1370.6,2038.9 1381.5,2039.2 1392.5,1955.7 1403.4,2011.6 1414.4,1857.9 1425.4,1951.1 1436.3,1731.4 1447.3,1931.2 1458.2,1861.8 1469.2,1723.5 1480.1,1753 1491.1,1783.3 1502,1798.9 1513,1810.1 1524,1816 1534.9,1820.6 1545.9,1810.1 1556.8,1805.5 1567.8,1761.7 1578.7,1868.3 1589.7,1840.5 1600.6,1805.5 1611.6,1809.2 1622.6,1810.1 1633.5,1942.5 1644.5,1940.6 1655.4,1938.3 1666.4,1973.2 1677.3,1990.7 1688.3,1951.1 1699.3,1944.1 1710.2,1943.2 1721.2,1962.8 1732.1,1953.4 1743.1,1947.5 1754,1948.8 1765,1944 1775.9,1956.9 1786.9,1962.8 1797.9,1966.2 1808.8,1937.7 1819.8,1935.1 1830.7,1952.3 1841.7,1933.6 1852.6,1905.7 1863.6,1902.4 1874.5,1948.2 1885.5,1909.3 1896.5,1849.3 1907.4,1773.5 1918.4,1828.3 1929.3,1803.2 1940.3,1848.6 1951.2,1847.7 1962.2,1853.7 1973.2,1663.6 1984.1,1761.2 1995.1,1860.2 2006,1881.2 2017,1910.8 2027.9,1890.6 2038.9,1871.9 2049.8,1771.7 2060.8,1725 2071.8,1682.1 2082.7,1642.2 2093.7,1485.1 2104.6,1591.5 2115.6,1737 2126.5,1635.1 2137.5,1713.9 2148.4,1742.4 2159.4,1789.1 2170.4,1774.5 2181.3,1777.5 2192.3,1800.1 2203.2,1798 2214.2,1774.9 2225.1,1757.7 2236.1,1773.4 2247.1,1796.8 2258,1831.2 2269,1801.6 2279.9,1852.9 2290.9,1841.8 2301.8,1847.8 2312.8,1849.8 2323.7,1838.1 2334.7,1851.1" fill="none" stroke="#ff0000" stroke-width="4.0" stroke-linejoin="miter" shape-rendering="crispEdges"/>
<path d="M154.5 2023.7L162.5 2037.6L146.4 2037.6ZM165.4 1572.4L173.5 1586.4L157.4 1586.4ZM176.4 1670.7L184.4 1684.6L168.3 1684.6ZM187.3 1852.3L195.4 1866.2L179.3 1866.2ZM198.3 1948.6L206.3 1962.5L190.2 1962.5ZM209.2 1990.2L217.3 2004.2L201.2 2004.2ZM220.2 2032.2L228.2 2046.2L212.1 2046.2ZM231.1 2059.3L239.2 2073.2L223.1 2073.2ZM242.1 2059.1L250.2 2073L234 2073ZM253.1 2081.2L261.1 2095.1L245 2095.1ZM264 2098.5L272.1 2112.4L256 2112.4ZM275 2109.6L283 2123.5L266.9 2123.5ZM285.9 2117.1L294 2131.1L277.9 2131.1ZM296.9 2121.6L304.9 2135.5L288.8 2135.5ZM307.8 2125.2L315.9 2139.1L299.8 2139.1ZM318.8 2127.8L326.9 2141.8L310.7 2141.8ZM329.8 2129.6L337.8 2143.6L321.7 2143.6ZM340.7 2132.3L348.8 2146.2L332.7 2146.2ZM351.7 2134.1L359.7 2148L343.6 2148ZM362.6 2137.6L370.7 2151.6L354.6 2151.6ZM373.6 2143L381.6 2156.9L365.5 2156.9ZM384.5 2143.8L392.6 2157.8L376.5 2157.8ZM395.5 2143.8L403.5 2157.8L387.4 2157.8ZM406.4 2144.3L414.5 2158.2L398.4 2158.2ZM417.4 2144.3L425.5 2158.2L409.3 2158.2ZM428.4 2144.7L436.4 2158.7L420.3 2158.7ZM439.3 2144.7L447.4 2158.7L431.3 2158.7ZM450.3 2144.7L458.3 2158.7L442.2 2158.7ZM461.2 2144.7L469.3 2158.7L453.2 2158.7ZM472.2 2144.7L480.2 2158.7L464.1 2158.7ZM483.1 2143.8L491.2 2157.8L475.1 2157.8ZM494.1 2109.1L502.1 2123.1L486 2123.1ZM505 2141.2L513.1 2155.1L497 2155.1ZM516 2141.2L524.1 2155.1L507.9 2155.1ZM527 2141.2L535 2155.1L518.9 2155.1ZM537.9 2084.7L546 2098.7L529.9 2098.7ZM548.9 2130.5L556.9 2144.4L540.8 2144.4ZM559.8 2120.7L567.9 2134.7L551.8 2134.7ZM570.8 2124.3L578.8 2138.2L562.7 2138.2ZM581.7 2121.6L589.8 2135.5L573.7 2135.5ZM592.7 2065.3L600.8 2079.2L584.6 2079.2ZM603.7 2125.2L611.7 2139.1L595.6 2139.1ZM614.6 2127.2L622.7 2141.2L606.6 2141.2ZM625.6 2132.3L633.6 2146.2L617.5 2146.2ZM636.5 2136.7L644.6 2150.7L628.5 2150.7ZM647.5 2137.6L655.5 2151.6L639.4 2151.6ZM658.4 2137.6L666.5 2151.6L650.4 2151.6ZM669.4 2137.6L677.4 2151.6L661.3 2151.6ZM680.3 2139.4L688.4 2153.3L672.3 2153.3ZM691.3 2116.7L699.4 2130.7L683.2 2130.7ZM702.3 2139.4L710.3 2153.3L694.2 2153.3ZM713.2 2136.7L721.3 2150.7L705.2 2150.7ZM724.2 2135.8L732.2 2149.8L716.1 2149.8ZM735.1 2130.5L743.2 2144.4L727.1 2144.4ZM746.1 2128.3L754.1 2142.2L738 2142.2ZM757 2131.8L765.1 2145.8L749 2145.8ZM768 2134.6L776 2148.5L759.9 2148.5ZM778.9 2138.5L787 2152.5L770.9 2152.5ZM789.9 2114.7L798 2128.6L781.8 2128.6ZM800.9 2120.9L808.9 2134.9L792.8 2134.9ZM811.8 2122L819.9 2135.9L803.8 2135.9ZM822.8 2116.7L830.8 2130.7L814.7 2130.7ZM833.7 2120.9L841.8 2134.9L825.7 2134.9ZM844.7 2118.8L852.7 2132.8L836.6 2132.8ZM855.6 2115.7L863.7 2129.6L847.6 2129.6ZM866.6 2116.7L874.7 2130.7L858.5 2130.7ZM877.6 2112.7L885.6 2126.6L869.5 2126.6ZM888.5 2104.8L896.6 2118.7L880.5 2118.7ZM899.5 2102L907.5 2116L891.4 2116ZM910.4 2085.2L918.5 2099.2L902.4 2099.2ZM921.4 2065.3L929.4 2079.2L913.3 2079.2ZM932.3 2074.3L940.4 2088.3L924.3 2088.3ZM943.3 2067.4L951.3 2081.3L935.2 2081.3ZM954.2 2065.7L962.3 2079.6L946.2 2079.6ZM965.2 2070.5L973.3 2084.5L957.1 2084.5ZM976.2 2061.7L984.2 2075.7L968.1 2075.7ZM987.1 2011.3L995.2 2025.3L979.1 2025.3ZM998.1 1993.3L1006.1 2007.2L990 2007.2ZM1009 1849.2L1017.1 1863.2L1001 1863.2ZM1020 1909.3L1028 1923.3L1011.9 1923.3ZM1030.9 1886.2L1039 1900.1L1022.9 1900.1ZM1041.9 1916.9L1049.9 1930.8L1033.8 1930.8ZM1052.8 1921.5L1060.9 1935.5L1044.8 1935.5ZM1063.8 1948.2L1071.9 1962.2L1055.7 1962.2ZM1074.8 1947.5L1082.8 1961.4L1066.7 1961.4ZM1085.7 1947.5L1093.8 1961.4L1077.7 1961.4ZM1096.7 1931.1L1104.7 1945.1L1088.6 1945.1ZM1107.6 1914.7L1115.7 1928.7L1099.6 1928.7ZM1118.6 1953.7L1126.6 1967.7L1110.5 1967.7ZM1129.5 1926.7L1137.6 1940.6L1121.5 1940.6ZM1140.5 1978.5L1148.6 1992.4L1132.4 1992.4ZM1151.5 1948L1159.5 1962L1143.4 1962ZM1162.4 1988.4L1170.5 2002.3L1154.4 2002.3ZM1173.4 1996.5L1181.4 2010.5L1165.3 2010.5ZM1184.3 1981.6L1192.4 1995.5L1176.3 1995.5ZM1195.3 2000.6L1203.3 2014.6L1187.2 2014.6ZM1206.2 2015.7L1214.3 2029.6L1198.2 2029.6ZM1217.2 1978.5L1225.2 1992.4L1209.1 1992.4ZM1228.1 1884.5L1236.2 1898.4L1220.1 1898.4ZM1239.1 1985.6L1247.2 1999.5L1231 1999.5ZM1250.1 1985.6L1258.1 1999.5L1242 1999.5ZM1261 1936.5L1269.1 1950.4L1253 1950.4ZM1272 1977.4L1280 1991.3L1263.9 1991.3ZM1282.9 1922.2L1291 1936.2L1274.9 1936.2ZM1293.9 1993.4L1301.9 2007.4L1285.8 2007.4ZM1304.8 2033.8L1312.9 2047.8L1296.8 2047.8ZM1315.8 2028L1323.8 2041.9L1307.7 2041.9ZM1326.7 2005.3L1334.8 2019.3L1318.7 2019.3ZM1337.7 2003.7L1345.8 2017.7L1329.6 2017.7ZM1348.7 2010.3L1356.7 2024.3L1340.6 2024.3ZM1359.6 2022.2L1367.7 2036.1L1351.6 2036.1ZM1370.6 2029.6L1378.6 2043.5L1362.5 2043.5ZM1381.5 2029.9L1389.6 2043.9L1373.5 2043.9ZM1392.5 1946.4L1400.5 1960.4L1384.4 1960.4ZM1403.4 2002.3L1411.5 2016.3L1395.4 2016.3ZM1414.4 1848.6L1422.5 1862.6L1406.3 1862.6ZM1425.4 1941.8L1433.4 1955.7L1417.3 1955.7ZM1436.3 1722.1L1444.4 1736.1L1428.3 1736.1ZM1447.3 1921.9L1455.3 1935.9L1439.2 1935.9ZM1458.2 1852.5L1466.3 1866.5L1450.2 1866.5ZM1469.2 1714.2L1477.2 1728.1L1461.1 1728.1ZM1480.1 1743.7L1488.2 1757.7L1472.1 1757.7ZM1491.1 1774L1499.1 1788L1483 1788ZM1502 1789.6L1510.1 1803.5L1494 1803.5ZM1513 1800.8L1521.1 1814.8L1504.9 1814.8ZM1524 1806.7L1532 1820.6L1515.9 1820.6ZM1534.9 1811.3L1543 1825.3L1526.9 1825.3ZM1545.9 1800.8L1553.9 1814.8L1537.8 1814.8ZM1556.8 1796.2L1564.9 1810.1L1548.8 1810.1ZM1567.8 1752.4L1575.8 1766.3L1559.7 1766.3ZM1578.7 1859L1586.8 1873L1570.7 1873ZM1589.7 1831.2L1597.7 1845.1L1581.6 1845.1ZM1600.6 1796.2L1608.7 1810.1L1592.6 1810.1ZM1611.6 1799.9L1619.7 1813.9L1603.5 1813.9ZM1622.6 1800.8L1630.6 1814.8L1614.5 1814.8ZM1633.5 1933.2L1641.6 1947.1L1625.5 1947.1ZM1644.5 1931.3L1652.5 1945.2L1636.4 1945.2ZM1655.4 1929L1663.5 1942.9L1647.4 1942.9ZM1666.4 1963.9L1674.4 1977.8L1658.3 1977.8ZM1677.3 1981.4L1685.4 1995.4L1669.3 1995.4ZM1688.3 1941.8L1696.4 1955.7L1680.2 1955.7ZM1699.3 1934.8L1707.3 1948.7L1691.2 1948.7ZM1710.2 1933.9L1718.3 1947.8L1702.2 1947.8ZM1721.2 1953.5L1729.2 1967.4L1713.1 1967.4ZM1732.1 1944.1L1740.2 1958.1L1724.1 1958.1ZM1743.1 1938.2L1751.1 1952.2L1735 1952.2ZM1754 1939.5L1762.1 1953.4L1746 1953.4ZM1765 1934.7L1773 1948.6L1756.9 1948.6ZM1775.9 1947.6L1784 1961.5L1767.9 1961.5ZM1786.9 1953.5L1795 1967.4L1778.8 1967.4ZM1797.9 1956.9L1805.9 1970.9L1789.8 1970.9ZM1808.8 1928.4L1816.9 1942.4L1800.8 1942.4ZM1819.8 1925.8L1827.8 1939.7L1811.7 1939.7ZM1830.7 1943L1838.8 1956.9L1822.7 1956.9ZM1841.7 1924.3L1849.7 1938.3L1833.6 1938.3ZM1852.6 1896.4L1860.7 1910.4L1844.6 1910.4ZM1863.6 1893.1L1871.6 1907.1L1855.5 1907.1ZM1874.5 1938.9L1882.6 1952.8L1866.5 1952.8ZM1885.5 1900L1893.6 1913.9L1877.4 1913.9ZM1896.5 1840L1904.5 1853.9L1888.4 1853.9ZM1907.4 1764.2L1915.5 1778.2L1899.4 1778.2ZM1918.4 1819L1926.4 1832.9L1910.3 1832.9ZM1929.3 1793.9L1937.4 1807.8L1921.3 1807.8ZM1940.3 1839.3L1948.3 1853.2L1932.2 1853.2ZM1951.2 1838.4L1959.3 1852.3L1943.2 1852.3ZM1962.2 1844.4L1970.3 1858.4L1954.1 1858.4ZM1973.2 1654.3L1981.2 1668.2L1965.1 1668.2ZM1984.1 1751.9L1992.2 1765.9L1976.1 1765.9ZM1995.1 1850.9L2003.1 1864.9L1987 1864.9ZM2006 1871.9L2014.1 1885.9L1998 1885.9ZM2017 1901.5L2025 1915.4L2008.9 1915.4ZM2027.9 1881.3L2036 1895.2L2019.9 1895.2ZM2038.9 1862.6L2046.9 1876.5L2030.8 1876.5ZM2049.8 1762.4L2057.9 1776.3L2041.8 1776.3ZM2060.8 1715.7L2068.9 1729.7L2052.7 1729.7ZM2071.8 1672.8L2079.8 1686.8L2063.7 1686.8ZM2082.7 1632.9L2090.8 1646.9L2074.7 1646.9ZM2093.7 1475.8L2101.7 1489.8L2085.6 1489.8ZM2104.6 1582.2L2112.7 1596.1L2096.6 1596.1ZM2115.6 1727.7L2123.6 1741.7L2107.5 1741.7ZM2126.5 1625.8L2134.6 1639.8L2118.5 1639.8ZM2137.5 1704.6L2145.5 1718.5L2129.4 1718.5ZM2148.4 1733.1L2156.5 1747L2140.4 1747ZM2159.4 1779.8L2167.5 1793.7L2151.3 1793.7ZM2170.4 1765.2L2178.4 1779.1L2162.3 1779.1ZM2181.3 1768.2L2189.4 1782.2L2173.3 1782.2ZM2192.3 1790.8L2200.3 1804.8L2184.2 1804.8ZM2203.2 1788.7L2211.3 1802.6L2195.2 1802.6ZM2214.2 1765.6L2222.2 1779.5L2206.1 1779.5ZM2225.1 1748.4L2233.2 1762.3L2217.1 1762.3ZM2236.1 1764.1L2244.2 1778.1L2228 1778.1ZM2247.1 1787.5L2255.1 1801.4L2239 1801.4ZM2258 1821.9L2266.1 1835.8L2250 1835.8ZM2269 1792.3L2277 1806.2L2260.9 1806.2ZM2279.9 1843.6L2288 1857.6L2271.9 1857.6ZM2290.9 1832.5L2298.9 1846.4L2282.8 1846.4ZM2301.8 1838.5L2309.9 1852.5L2293.8 1852.5ZM2312.8 1840.5L2320.8 1854.5L2304.7 1854.5ZM2323.7 1828.8L2331.8 1842.7L2315.7 1842.7ZM2334.7 1841.8L2342.8 1855.8L2326.6 1855.8Z" fill="none" stroke="#ff0000" stroke-width="4.0" stroke-linejoin="miter" stroke-linecap="butt" shape-rendering="crispEdges"/>
<polyline clip-path="url(#clip2)" points="154.5,2155.2 165.4,2084.2 176.4,2087.3 187.3,2103.1 198.3,2114.2 209.2,2115.1 220.2,2116.4 231.1,2118.3 242.1,2104.7 253.1,2120.5 264,2128.4 275,2133.1 285.9,2137.1 296.9,2140.7 307.8,2143.4 318.8,2145.1 329.8,2146.9 340.7,2148.7 351.7,2150.5 362.6,2151.4 373.6,2152.3 384.5,2154 395.5,2154.9 406.4,2154.9 417.4,2154.9 428.4,2154.9 439.3,2154.9 450.3,2155.8 461.2,2155.8 472.2,2156.7 483.1,2155.8 494.1,2122 505,2153.1 516,2154.9 527,2154 537.9,2127.3 548.9,2148.7 559.8,2146.9 570.8,2147.8 581.7,2148.7 592.7,2132.7 603.7,2146 614.6,2149.6 625.6,2151.4 636.5,2151.4 647.5,2149.1 658.4,2149.1 669.4,2149.1 680.3,2149.1 691.3,2141.8 702.3,2149.1 713.2,2148.1 724.2,2146 735.1,2143.9 746.1,2142.8 757,2145 768,2147 778.9,2146 789.9,2141.8 800.9,2140.7 811.8,2141.8 822.8,2139.8 833.7,2139.8 844.7,2138.6 855.6,2137.6 866.6,2131.3 877.6,2111.3 888.5,2139.9 899.5,2139.9 910.4,2139.9 921.4,2139.9 932.3,2137.9 943.3,2133.4 954.2,2132.2 965.2,2134 976.2,2136.5 987.1,2119.7 998.1,2114.9 1009,2105.1 1020,2085.1 1030.9,2085.1 1041.9,2094.8 1052.8,2112.2 1063.8,2094.8 1074.8,2096.3 1085.7,2105.4 1096.7,2090.8 1107.6,2094.8 1118.6,2083.7 1129.5,2035.7 1140.5,2108.9 1151.5,2049.9 1162.4,2100.3 1173.4,2102.3 1184.3,2055.4 1195.3,2103.4 1206.2,2112.2 1217.2,2070.9 1228.1,2090 1239.1,2066.2 1250.1,2025.2 1261,1936 1272,1930.2 1282.9,1956.4 1293.9,1940.7 1304.8,1981.8 1315.8,2022.6 1326.7,1951.5 1337.7,1869.7 1348.7,2012.1 1359.6,2012.1 1370.6,1991.2 1381.5,2030.8 1392.5,2030.8 1403.4,2092.6 1414.4,2054 1425.4,2016.8 1436.3,1939.9 1447.3,2091.3 1458.2,2089 1469.2,1992.3 1480.1,2040.1 1491.1,2047 1502,2015.6 1513,2065.7 1524,1949.3 1534.9,2001.7 1545.9,2033 1556.8,2036.5 1567.8,1991.2 1578.7,2036.5 1589.7,1987.9 1600.6,1945.8 1611.6,1990 1622.6,1979.6 1633.5,2016.8 1644.5,2030.8 1655.4,1994.7 1666.4,1988.8 1677.3,1901.4 1688.3,1951.5 1699.3,1971.3 1710.2,1952.9 1721.2,1902.6 1732.1,1858.3 1743.1,1914.2 1754,1857.2 1765,1882.8 1775.9,1971.3 1786.9,2001.7 1797.9,1996.9 1808.8,2004 1819.8,1944.5 1830.7,1985.3 1841.7,2004 1852.6,2012.1 1863.6,1937.6 1874.5,1967.1 1885.5,1943.4 1896.5,1952.9 1907.4,1971.3 1918.4,1921.3 1929.3,1943.4 1940.3,1967.8 1951.2,1939.9 1962.2,1942.2 1973.2,1740.7 1984.1,1895.2 1995.1,1923.6 2006,1962 2017,1972.5 2027.9,2028.4 2038.9,2019.1 2049.8,2026 2060.8,1988.8 2071.8,1967.8 2082.7,1907 2093.7,1859.4 2104.6,1936.9 2115.6,1795.4 2126.5,1683.2 2137.5,1780.7 2148.4,1964.3 2159.4,1993.3 2170.4,1991.9 2181.3,2001.8 2192.3,2004.7 2203.2,1989.4 2214.2,1999 2225.1,2007.5 2236.1,2030.1 2247.1,2025.9 2258,2020.3 2269,2014.6 2279.9,2000.4 2290.9,2002.5 2301.8,2003.3 2312.8,2001.8 2323.7,1996.1 2334.7,1986.3" fill="none" stroke="#00ff00" stroke-width="4.0" stroke-linejoin="miter" shape-rendering="crispEdges"/>
<path d="M146.5 2155.2L162.5 2155.2M154.5 2147.2L154.5 2163.2M149.2 2149.9L159.8 2160.5M149.2 2160.5L159.8 2149.9M157.4 2084.2L173.4 2084.2M165.4 2076.2L165.4 2092.2M160.1 2078.9L170.7 2089.5M160.1 2089.5L170.7 2078.9M168.4 2087.3L184.4 2087.3M176.4 2079.3L176.4 2095.3M171.1 2082L181.7 2092.6M171.1 2092.6L181.7 2082M179.3 2103.1L195.3 2103.1M187.3 2095.1L187.3 2111.1M182 2097.8L192.6 2108.4M182 2108.4L192.6 2097.8M190.3 2114.2L206.3 2114.2M198.3 2106.2L198.3 2122.2M193 2108.9L203.6 2119.5M193 2119.5L203.6 2108.9M201.2 2115.1L217.2 2115.1M209.2 2107.1L209.2 2123.1M203.9 2109.8L214.5 2120.4M203.9 2120.4L214.5 2109.8M212.2 2116.4L228.2 2116.4M220.2 2108.4L220.2 2124.4M214.9 2111.1L225.5 2121.7M214.9 2121.7L225.5 2111.1M223.1 2118.3L239.1 2118.3M231.1 2110.3L231.1 2126.3M225.8 2113L236.4 2123.6M225.8 2123.6L236.4 2113M234.1 2104.7L250.1 2104.7M242.1 2096.7L242.1 2112.7M236.8 2099.4L247.4 2110M236.8 2110L247.4 2099.4M245.1 2120.5L261.1 2120.5M253.1 2112.5L253.1 2128.5M247.8 2115.2L258.4 2125.8M247.8 2125.8L258.4 2115.2M256 2128.4L272 2128.4M264 2120.4L264 2136.4M258.7 2123.1L269.3 2133.7M258.7 2133.7L269.3 2123.1M267 2133.1L283 2133.1M275 2125.1L275 2141.1M269.7 2127.8L280.3 2138.4M269.7 2138.4L280.3 2127.8M277.9 2137.1L293.9 2137.1M285.9 2129.1L285.9 2145.1M280.6 2131.8L291.2 2142.4M280.6 2142.4L291.2 2131.8M288.9 2140.7L304.9 2140.7M296.9 2132.7L296.9 2148.7M291.6 2135.4L302.2 2146M291.6 2146L302.2 2135.4M299.8 2143.4L315.8 2143.4M307.8 2135.4L307.8 2151.4M302.5 2138.1L313.1 2148.7M302.5 2148.7L313.1 2138.1M310.8 2145.1L326.8 2145.1M318.8 2137.1L318.8 2153.1M313.5 2139.8L324.1 2150.4M313.5 2150.4L324.1 2139.8M321.8 2146.9L337.8 2146.9M329.8 2138.9L329.8 2154.9M324.5 2141.6L335.1 2152.2M324.5 2152.2L335.1 2141.6M332.7 2148.7L348.7 2148.7M340.7 2140.7L340.7 2156.7M335.4 2143.4L346 2154M335.4 2154L346 2143.4M343.7 2150.5L359.7 2150.5M351.7 2142.5L351.7 2158.5M346.4 2145.2L357 2155.8M346.4 2155.8L357 2145.2M354.6 2151.4L370.6 2151.4M362.6 2143.4L362.6 2159.4M357.3 2146.1L367.9 2156.7M357.3 2156.7L367.9 2146.1M365.6 2152.3L381.6 2152.3M373.6 2144.3L373.6 2160.3M368.3 2147L378.9 2157.6M368.3 2157.6L378.9 2147M376.5 2154L392.5 2154M384.5 2146L384.5 2162M379.2 2148.7L389.8 2159.3M379.2 2159.3L389.8 2148.7M387.5 2154.9L403.5 2154.9M395.5 2146.9L395.5 2162.9M390.2 2149.6L400.8 2160.2M390.2 2160.2L400.8 2149.6M398.4 2154.9L414.4 2154.9M406.4 2146.9L406.4 2162.9M401.1 2149.6L411.7 2160.2M401.1 2160.2L411.7 2149.6M409.4 2154.9L425.4 2154.9M417.4 2146.9L417.4 2162.9M412.1 2149.6L422.7 2160.2M412.1 2160.2L422.7 2149.6M420.4 2154.9L436.4 2154.9M428.4 2146.9L428.4 2162.9M423.1 2149.6L433.7 2160.2M423.1 2160.2L433.7 2149.6M431.3 2154.9L447.3 2154.9M439.3 2146.9L439.3 2162.9M434 2149.6L444.6 2160.2M434 2160.2L444.6 2149.6M442.3 2155.8L458.3 2155.8M450.3 2147.8L450.3 2163.8M445 2150.5L455.6 2161.1M445 2161.1L455.6 2150.5M453.2 2155.8L469.2 2155.8M461.2 2147.8L461.2 2163.8M455.9 2150.5L466.5 2161.1M455.9 2161.1L466.5 2150.5M464.2 2156.7L480.2 2156.7M472.2 2148.7L472.2 2164.7M466.9 2151.4L477.5 2162M466.9 2162L477.5 2151.4M475.1 2155.8L491.1 2155.8M483.1 2147.8L483.1 2163.8M477.8 2150.5L488.4 2161.1M477.8 2161.1L488.4 2150.5M486.1 2122L502.1 2122M494.1 2114L494.1 2130M488.8 2116.7L499.4 2127.3M488.8 2127.3L499.4 2116.7M497 2153.1L513 2153.1M505 2145.1L505 2161.1M499.7 2147.8L510.3 2158.4M499.7 2158.4L510.3 2147.8M508 2154.9L524 2154.9M516 2146.9L516 2162.9M510.7 2149.6L521.3 2160.2M510.7 2160.2L521.3 2149.6M519 2154L535 2154M527 2146L527 2162M521.7 2148.7L532.3 2159.3M521.7 2159.3L532.3 2148.7M529.9 2127.3L545.9 2127.3M537.9 2119.3L537.9 2135.3M532.6 2122L543.2 2132.6M532.6 2132.6L543.2 2122M540.9 2148.7L556.9 2148.7M548.9 2140.7L548.9 2156.7M543.6 2143.4L554.2 2154M543.6 2154L554.2 2143.4M551.8 2146.9L567.8 2146.9M559.8 2138.9L559.8 2154.9M554.5 2141.6L565.1 2152.2M554.5 2152.2L565.1 2141.6M562.8 2147.8L578.8 2147.8M570.8 2139.8L570.8 2155.8M565.5 2142.5L576.1 2153.1M565.5 2153.1L576.1 2142.5M573.7 2148.7L589.7 2148.7M581.7 2140.7L581.7 2156.7M576.4 2143.4L587 2154M576.4 2154L587 2143.4M584.7 2132.7L600.7 2132.7M592.7 2124.7L592.7 2140.7M587.4 2127.4L598 2138M587.4 2138L598 2127.4M595.7 2146L611.7 2146M603.7 2138L603.7 2154M598.4 2140.7L609 2151.3M598.4 2151.3L609 2140.7M606.6 2149.6L622.6 2149.6M614.6 2141.6L614.6 2157.6M609.3 2144.3L619.9 2154.9M609.3 2154.9L619.9 2144.3M617.6 2151.4L633.6 2151.4M625.6 2143.4L625.6 2159.4M620.3 2146.1L630.9 2156.7M620.3 2156.7L630.9 2146.1M628.5 2151.4L644.5 2151.4M636.5 2143.4L636.5 2159.4M631.2 2146.1L641.8 2156.7M631.2 2156.7L641.8 2146.1M639.5 2149.1L655.5 2149.1M647.5 2141.1L647.5 2157.1M642.2 2143.8L652.8 2154.4M642.2 2154.4L652.8 2143.8M650.4 2149.1L666.4 2149.1M658.4 2141.1L658.4 2157.1M653.1 2143.8L663.7 2154.4M653.1 2154.4L663.7 2143.8M661.4 2149.1L677.4 2149.1M669.4 2141.1L669.4 2157.1M664.1 2143.8L674.7 2154.4M664.1 2154.4L674.7 2143.8M672.3 2149.1L688.3 2149.1M680.3 2141.1L680.3 2157.1M675 2143.8L685.6 2154.4M675 2154.4L685.6 2143.8M683.3 2141.8L699.3 2141.8M691.3 2133.8L691.3 2149.8M686 2136.5L696.6 2147.1M686 2147.1L696.6 2136.5M694.3 2149.1L710.3 2149.1M702.3 2141.1L702.3 2157.1M697 2143.8L707.6 2154.4M697 2154.4L707.6 2143.8M705.2 2148.1L721.2 2148.1M713.2 2140.1L713.2 2156.1M707.9 2142.8L718.5 2153.4M707.9 2153.4L718.5 2142.8M716.2 2146L732.2 2146M724.2 2138L724.2 2154M718.9 2140.7L729.5 2151.3M718.9 2151.3L729.5 2140.7M727.1 2143.9L743.1 2143.9M735.1 2135.9L735.1 2151.9M729.8 2138.6L740.4 2149.2M729.8 2149.2L740.4 2138.6M738.1 2142.8L754.1 2142.8M746.1 2134.8L746.1 2150.8M740.8 2137.5L751.4 2148.1M740.8 2148.1L751.4 2137.5M749 2145L765 2145M757 2137L757 2153M751.7 2139.7L762.3 2150.3M751.7 2150.3L762.3 2139.7M760 2147L776 2147M768 2139L768 2155M762.7 2141.7L773.3 2152.3M762.7 2152.3L773.3 2141.7M770.9 2146L786.9 2146M778.9 2138L778.9 2154M773.6 2140.7L784.2 2151.3M773.6 2151.3L784.2 2140.7M781.9 2141.8L797.9 2141.8M789.9 2133.8L789.9 2149.8M784.6 2136.5L795.2 2147.1M784.6 2147.1L795.2 2136.5M792.9 2140.7L808.9 2140.7M800.9 2132.7L800.9 2148.7M795.6 2135.4L806.2 2146M795.6 2146L806.2 2135.4M803.8 2141.8L819.8 2141.8M811.8 2133.8L811.8 2149.8M806.5 2136.5L817.1 2147.1M806.5 2147.1L817.1 2136.5M814.8 2139.8L830.8 2139.8M822.8 2131.8L822.8 2147.8M817.5 2134.5L828.1 2145.1M817.5 2145.1L828.1 2134.5M825.7 2139.8L841.7 2139.8M833.7 2131.8L833.7 2147.8M828.4 2134.5L839 2145.1M828.4 2145.1L839 2134.5M836.7 2138.6L852.7 2138.6M844.7 2130.6L844.7 2146.6M839.4 2133.3L850 2143.9M839.4 2143.9L850 2133.3M847.6 2137.6L863.6 2137.6M855.6 2129.6L855.6 2145.6M850.3 2132.3L860.9 2142.9M850.3 2142.9L860.9 2132.3M858.6 2131.3L874.6 2131.3M866.6 2123.3L866.6 2139.3M861.3 2126L871.9 2136.6M861.3 2136.6L871.9 2126M869.6 2111.3L885.6 2111.3M877.6 2103.3L877.6 2119.3M872.3 2106L882.9 2116.6M872.3 2116.6L882.9 2106M880.5 2139.9L896.5 2139.9M888.5 2131.9L888.5 2147.9M883.2 2134.6L893.8 2145.2M883.2 2145.2L893.8 2134.6M891.5 2139.9L907.5 2139.9M899.5 2131.9L899.5 2147.9M894.2 2134.6L904.8 2145.2M894.2 2145.2L904.8 2134.6M902.4 2139.9L918.4 2139.9M910.4 2131.9L910.4 2147.9M905.1 2134.6L915.7 2145.2M905.1 2145.2L915.7 2134.6M913.4 2139.9L929.4 2139.9M921.4 2131.9L921.4 2147.9M916.1 2134.6L926.7 2145.2M916.1 2145.2L926.7 2134.6M924.3 2137.9L940.3 2137.9M932.3 2129.9L932.3 2145.9M927 2132.6L937.6 2143.2M927 2143.2L937.6 2132.6M935.3 2133.4L951.3 2133.4M943.3 2125.4L943.3 2141.4M938 2128.1L948.6 2138.7M938 2138.7L948.6 2128.1M946.2 2132.2L962.2 2132.2M954.2 2124.2L954.2 2140.2M948.9 2126.9L959.5 2137.5M948.9 2137.5L959.5 2126.9M957.2 2134L973.2 2134M965.2 2126L965.2 2142M959.9 2128.7L970.5 2139.3M959.9 2139.3L970.5 2128.7M968.2 2136.5L984.2 2136.5M976.2 2128.5L976.2 2144.5M970.9 2131.2L981.5 2141.8M970.9 2141.8L981.5 2131.2M979.1 2119.7L995.1 2119.7M987.1 2111.7L987.1 2127.7M981.8 2114.4L992.4 2125M981.8 2125L992.4 2114.4M990.1 2114.9L1006.1 2114.9M998.1 2106.9L998.1 2122.9M992.8 2109.6L1003.4 2120.2M992.8 2120.2L1003.4 2109.6M1001 2105.1L1017 2105.1M1009 2097.1L1009 2113.1M1003.7 2099.8L1014.3 2110.4M1003.7 2110.4L1014.3 2099.8M1012 2085.1L1028 2085.1M1020 2077.1L1020 2093.1M1014.7 2079.8L1025.3 2090.4M1014.7 2090.4L1025.3 2079.8M1022.9 2085.1L1038.9 2085.1M1030.9 2077.1L1030.9 2093.1M1025.6 2079.8L1036.2 2090.4M1025.6 2090.4L1036.2 2079.8M1033.9 2094.8L1049.9 2094.8M1041.9 2086.8L1041.9 2102.8M1036.6 2089.5L1047.2 2100.1M1036.6 2100.1L1047.2 2089.5M1044.8 2112.2L1060.8 2112.2M1052.8 2104.2L1052.8 2120.2M1047.5 2106.9L1058.1 2117.5M1047.5 2117.5L1058.1 2106.9M1055.8 2094.8L1071.8 2094.8M1063.8 2086.8L1063.8 2102.8M1058.5 2089.5L1069.1 2100.1M1058.5 2100.1L1069.1 2089.5M1066.8 2096.3L1082.8 2096.3M1074.8 2088.3L1074.8 2104.3M1069.5 2091L1080.1 2101.6M1069.5 2101.6L1080.1 2091M1077.7 2105.4L1093.7 2105.4M1085.7 2097.4L1085.7 2113.4M1080.4 2100.1L1091 2110.7M1080.4 2110.7L1091 2100.1M1088.7 2090.8L1104.7 2090.8M1096.7 2082.8L1096.7 2098.8M1091.4 2085.5L1102 2096.1M1091.4 2096.1L1102 2085.5M1099.6 2094.8L1115.6 2094.8M1107.6 2086.8L1107.6 2102.8M1102.3 2089.5L1112.9 2100.1M1102.3 2100.1L1112.9 2089.5M1110.6 2083.7L1126.6 2083.7M1118.6 2075.7L1118.6 2091.7M1113.3 2078.4L1123.9 2089M1113.3 2089L1123.9 2078.4M1121.5 2035.7L1137.5 2035.7M1129.5 2027.7L1129.5 2043.7M1124.2 2030.4L1134.8 2041M1124.2 2041L1134.8 2030.4M1132.5 2108.9L1148.5 2108.9M1140.5 2100.9L1140.5 2116.9M1135.2 2103.6L1145.8 2114.2M1135.2 2114.2L1145.8 2103.6M1143.5 2049.9L1159.5 2049.9M1151.5 2041.9L1151.5 2057.9M1146.2 2044.6L1156.8 2055.2M1146.2 2055.2L1156.8 2044.6M1154.4 2100.3L1170.4 2100.3M1162.4 2092.3L1162.4 2108.3M1157.1 2095L1167.7 2105.6M1157.1 2105.6L1167.7 2095M1165.4 2102.3L1181.4 2102.3M1173.4 2094.3L1173.4 2110.3M1168.1 2097L1178.7 2107.6M1168.1 2107.6L1178.7 2097M1176.3 2055.4L1192.3 2055.4M1184.3 2047.4L1184.3 2063.4M1179 2050.1L1189.6 2060.7M1179 2060.7L1189.6 2050.1M1187.3 2103.4L1203.3 2103.4M1195.3 2095.4L1195.3 2111.4M1190 2098.1L1200.6 2108.7M1190 2108.7L1200.6 2098.1M1198.2 2112.2L1214.2 2112.2M1206.2 2104.2L1206.2 2120.2M1200.9 2106.9L1211.5 2117.5M1200.9 2117.5L1211.5 2106.9M1209.2 2070.9L1225.2 2070.9M1217.2 2062.9L1217.2 2078.9M1211.9 2065.6L1222.5 2076.2M1211.9 2076.2L1222.5 2065.6M1220.1 2090L1236.1 2090M1228.1 2082L1228.1 2098M1222.8 2084.7L1233.4 2095.3M1222.8 2095.3L1233.4 2084.7M1231.1 2066.2L1247.1 2066.2M1239.1 2058.2L1239.1 2074.2M1233.8 2060.9L1244.4 2071.5M1233.8 2071.5L1244.4 2060.9M1242.1 2025.2L1258.1 2025.2M1250.1 2017.2L1250.1 2033.2M1244.8 2019.9L1255.4 2030.5M1244.8 2030.5L1255.4 2019.9M1253 1936L1269 1936M1261 1928L1261 1944M1255.7 1930.7L1266.3 1941.3M1255.7 1941.3L1266.3 1930.7M1264 1930.2L1280 1930.2M1272 1922.2L1272 1938.2M1266.7 1924.9L1277.3 1935.5M1266.7 1935.5L1277.3 1924.9M1274.9 1956.4L1290.9 1956.4M1282.9 1948.4L1282.9 1964.4M1277.6 1951.1L1288.2 1961.7M1277.6 1961.7L1288.2 1951.1M1285.9 1940.7L1301.9 1940.7M1293.9 1932.7L1293.9 1948.7M1288.6 1935.4L1299.2 1946M1288.6 1946L1299.2 1935.4M1296.8 1981.8L1312.8 1981.8M1304.8 1973.8L1304.8 1989.8M1299.5 1976.5L1310.1 1987.1M1299.5 1987.1L1310.1 1976.5M1307.8 2022.6L1323.8 2022.6M1315.8 2014.6L1315.8 2030.6M1310.5 2017.3L1321.1 2027.9M1310.5 2027.9L1321.1 2017.3M1318.7 1951.5L1334.7 1951.5M1326.7 1943.5L1326.7 1959.5M1321.4 1946.2L1332 1956.8M1321.4 1956.8L1332 1946.2M1329.7 1869.7L1345.7 1869.7M1337.7 1861.7L1337.7 1877.7M1332.4 1864.4L1343 1875M1332.4 1875L1343 1864.4M1340.7 2012.1L1356.7 2012.1M1348.7 2004.1L1348.7 2020.1M1343.4 2006.8L1354 2017.4M1343.4 2017.4L1354 2006.8M1351.6 2012.1L1367.6 2012.1M1359.6 2004.1L1359.6 2020.1M1354.3 2006.8L1364.9 2017.4M1354.3 2017.4L1364.9 2006.8M1362.6 1991.2L1378.6 1991.2M1370.6 1983.2L1370.6 1999.2M1365.3 1985.9L1375.9 1996.5M1365.3 1996.5L1375.9 1985.9M1373.5 2030.8L1389.5 2030.8M1381.5 2022.8L1381.5 2038.8M1376.2 2025.5L1386.8 2036.1M1376.2 2036.1L1386.8 2025.5M1384.5 2030.8L1400.5 2030.8M1392.5 2022.8L1392.5 2038.8M1387.2 2025.5L1397.8 2036.1M1387.2 2036.1L1397.8 2025.5M1395.4 2092.6L1411.4 2092.6M1403.4 2084.6L1403.4 2100.6M1398.1 2087.3L1408.7 2097.9M1398.1 2097.9L1408.7 2087.3M1406.4 2054L1422.4 2054M1414.4 2046L1414.4 2062M1409.1 2048.7L1419.7 2059.3M1409.1 2059.3L1419.7 2048.7M1417.4 2016.8L1433.4 2016.8M1425.4 2008.8L1425.4 2024.8M1420.1 2011.5L1430.7 2022.1M1420.1 2022.1L1430.7 2011.5M1428.3 1939.9L1444.3 1939.9M1436.3 1931.9L1436.3 1947.9M1431 1934.6L1441.6 1945.2M1431 1945.2L1441.6 1934.6M1439.3 2091.3L1455.3 2091.3M1447.3 2083.3L1447.3 2099.3M1442 2086L1452.6 2096.6M1442 2096.6L1452.6 2086M1450.2 2089L1466.2 2089M1458.2 2081L1458.2 2097M1452.9 2083.7L1463.5 2094.3M1452.9 2094.3L1463.5 2083.7M1461.2 1992.3L1477.2 1992.3M1469.2 1984.3L1469.2 2000.3M1463.9 1987L1474.5 1997.6M1463.9 1997.6L1474.5 1987M1472.1 2040.1L1488.1 2040.1M1480.1 2032.1L1480.1 2048.1M1474.8 2034.8L1485.4 2045.4M1474.8 2045.4L1485.4 2034.8M1483.1 2047L1499.1 2047M1491.1 2039L1491.1 2055M1485.8 2041.7L1496.4 2052.3M1485.8 2052.3L1496.4 2041.7M1494 2015.6L1510 2015.6M1502 2007.6L1502 2023.6M1496.7 2010.3L1507.3 2020.9M1496.7 2020.9L1507.3 2010.3M1505 2065.7L1521 2065.7M1513 2057.7L1513 2073.7M1507.7 2060.4L1518.3 2071M1507.7 2071L1518.3 2060.4M1516 1949.3L1532 1949.3M1524 1941.3L1524 1957.3M1518.7 1944L1529.3 1954.6M1518.7 1954.6L1529.3 1944M1526.9 2001.7L1542.9 2001.7M1534.9 1993.7L1534.9 2009.7M1529.6 1996.4L1540.2 2007M1529.6 2007L1540.2 1996.4M1537.9 2033L1553.9 2033M1545.9 2025L1545.9 2041M1540.6 2027.7L1551.2 2038.3M1540.6 2038.3L1551.2 2027.7M1548.8 2036.5L1564.8 2036.5M1556.8 2028.5L1556.8 2044.5M1551.5 2031.2L1562.1 2041.8M1551.5 2041.8L1562.1 2031.2M1559.8 1991.2L1575.8 1991.2M1567.8 1983.2L1567.8 1999.2M1562.5 1985.9L1573.1 1996.5M1562.5 1996.5L1573.1 1985.9M1570.7 2036.5L1586.7 2036.5M1578.7 2028.5L1578.7 2044.5M1573.4 2031.2L1584 2041.8M1573.4 2041.8L1584 2031.2M1581.7 1987.9L1597.7 1987.9M1589.7 1979.9L1589.7 1995.9M1584.4 1982.6L1595 1993.2M1584.4 1993.2L1595 1982.6M1592.6 1945.8L1608.6 1945.8M1600.6 1937.8L1600.6 1953.8M1595.3 1940.5L1605.9 1951.1M1595.3 1951.1L1605.9 1940.5M1603.6 1990L1619.6 1990M1611.6 1982L1611.6 1998M1606.3 1984.7L1616.9 1995.3M1606.3 1995.3L1616.9 1984.7M1614.6 1979.6L1630.6 1979.6M1622.6 1971.6L1622.6 1987.6M1617.3 1974.3L1627.9 1984.9M1617.3 1984.9L1627.9 1974.3M1625.5 2016.8L1641.5 2016.8M1633.5 2008.8L1633.5 2024.8M1628.2 2011.5L1638.8 2022.1M1628.2 2022.1L1638.8 2011.5M1636.5 2030.8L1652.5 2030.8M1644.5 2022.8L1644.5 2038.8M1639.2 2025.5L1649.8 2036.1M1639.2 2036.1L1649.8 2025.5M1647.4 1994.7L1663.4 1994.7M1655.4 1986.7L1655.4 2002.7M1650.1 1989.4L1660.7 2000M1650.1 2000L1660.7 1989.4M1658.4 1988.8L1674.4 1988.8M1666.4 1980.8L1666.4 1996.8M1661.1 1983.5L1671.7 1994.1M1661.1 1994.1L1671.7 1983.5M1669.3 1901.4L1685.3 1901.4M1677.3 1893.4L1677.3 1909.4M1672 1896.1L1682.6 1906.7M1672 1906.7L1682.6 1896.1M1680.3 1951.5L1696.3 1951.5M1688.3 1943.5L1688.3 1959.5M1683 1946.2L1693.6 1956.8M1683 1956.8L1693.6 1946.2M1691.3 1971.3L1707.3 1971.3M1699.3 1963.3L1699.3 1979.3M1694 1966L1704.6 1976.6M1694 1976.6L1704.6 1966M1702.2 1952.9L1718.2 1952.9M1710.2 1944.9L1710.2 1960.9M1704.9 1947.6L1715.5 1958.2M1704.9 1958.2L1715.5 1947.6M1713.2 1902.6L1729.2 1902.6M1721.2 1894.6L1721.2 1910.6M1715.9 1897.3L1726.5 1907.9M1715.9 1907.9L1726.5 1897.3M1724.1 1858.3L1740.1 1858.3M1732.1 1850.3L1732.1 1866.3M1726.8 1853L1737.4 1863.6M1726.8 1863.6L1737.4 1853M1735.1 1914.2L1751.1 1914.2M1743.1 1906.2L1743.1 1922.2M1737.8 1908.9L1748.4 1919.5M1737.8 1919.5L1748.4 1908.9M1746 1857.2L1762 1857.2M1754 1849.2L1754 1865.2M1748.7 1851.9L1759.3 1862.5M1748.7 1862.5L1759.3 1851.9M1757 1882.8L1773 1882.8M1765 1874.8L1765 1890.8M1759.7 1877.5L1770.3 1888.1M1759.7 1888.1L1770.3 1877.5M1767.9 1971.3L1783.9 1971.3M1775.9 1963.3L1775.9 1979.3M1770.6 1966L1781.2 1976.6M1770.6 1976.6L1781.2 1966M1778.9 2001.7L1794.9 2001.7M1786.9 1993.7L1786.9 2009.7M1781.6 1996.4L1792.2 2007M1781.6 2007L1792.2 1996.4M1789.9 1996.9L1805.9 1996.9M1797.9 1988.9L1797.9 2004.9M1792.6 1991.6L1803.2 2002.2M1792.6 2002.2L1803.2 1991.6M1800.8 2004L1816.8 2004M1808.8 1996L1808.8 2012M1803.5 1998.7L1814.1 2009.3M1803.5 2009.3L1814.1 1998.7M1811.8 1944.5L1827.8 1944.5M1819.8 1936.5L1819.8 1952.5M1814.5 1939.2L1825.1 1949.8M1814.5 1949.8L1825.1 1939.2M1822.7 1985.3L1838.7 1985.3M1830.7 1977.3L1830.7 1993.3M1825.4 1980L1836 1990.6M1825.4 1990.6L1836 1980M1833.7 2004L1849.7 2004M1841.7 1996L1841.7 2012M1836.4 1998.7L1847 2009.3M1836.4 2009.3L1847 1998.7M1844.6 2012.1L1860.6 2012.1M1852.6 2004.1L1852.6 2020.1M1847.3 2006.8L1857.9 2017.4M1847.3 2017.4L1857.9 2006.8M1855.6 1937.6L1871.6 1937.6M1863.6 1929.6L1863.6 1945.6M1858.3 1932.3L1868.9 1942.9M1858.3 1942.9L1868.9 1932.3M1866.5 1967.1L1882.5 1967.1M1874.5 1959.1L1874.5 1975.1M1869.2 1961.8L1879.8 1972.4M1869.2 1972.4L1879.8 1961.8M1877.5 1943.4L1893.5 1943.4M1885.5 1935.4L1885.5 1951.4M1880.2 1938.1L1890.8 1948.7M1880.2 1948.7L1890.8 1938.1M1888.5 1952.9L1904.5 1952.9M1896.5 1944.9L1896.5 1960.9M1891.2 1947.6L1901.8 1958.2M1891.2 1958.2L1901.8 1947.6M1899.4 1971.3L1915.4 1971.3M1907.4 1963.3L1907.4 1979.3M1902.1 1966L1912.7 1976.6M1902.1 1976.6L1912.7 1966M1910.4 1921.3L1926.4 1921.3M1918.4 1913.3L1918.4 1929.3M1913.1 1916L1923.7 1926.6M1913.1 1926.6L1923.7 1916M1921.3 1943.4L1937.3 1943.4M1929.3 1935.4L1929.3 1951.4M1924 1938.1L1934.6 1948.7M1924 1948.7L1934.6 1938.1M1932.3 1967.8L1948.3 1967.8M1940.3 1959.8L1940.3 1975.8M1935 1962.5L1945.6 1973.1M1935 1973.1L1945.6 1962.5M1943.2 1939.9L1959.2 1939.9M1951.2 1931.9L1951.2 1947.9M1945.9 1934.6L1956.5 1945.2M1945.9 1945.2L1956.5 1934.6M1954.2 1942.2L1970.2 1942.2M1962.2 1934.2L1962.2 1950.2M1956.9 1936.9L1967.5 1947.5M1956.9 1947.5L1967.5 1936.9M1965.2 1740.7L1981.2 1740.7M1973.2 1732.7L1973.2 1748.7M1967.9 1735.4L1978.5 1746M1967.9 1746L1978.5 1735.4M1976.1 1895.2L1992.1 1895.2M1984.1 1887.2L1984.1 1903.2M1978.8 1889.9L1989.4 1900.5M1978.8 1900.5L1989.4 1889.9M1987.1 1923.6L2003.1 1923.6M1995.1 1915.6L1995.1 1931.6M1989.8 1918.3L2000.4 1928.9M1989.8 1928.9L2000.4 1918.3M1998 1962L2014 1962M2006 1954L2006 1970M2000.7 1956.7L2011.3 1967.3M2000.7 1967.3L2011.3 1956.7M2009 1972.5L2025 1972.5M2017 1964.5L2017 1980.5M2011.7 1967.2L2022.3 1977.8M2011.7 1977.8L2022.3 1967.2M2019.9 2028.4L2035.9 2028.4M2027.9 2020.4L2027.9 2036.4M2022.6 2023.1L2033.2 2033.7M2022.6 2033.7L2033.2 2023.1M2030.9 2019.1L2046.9 2019.1M2038.9 2011.1L2038.9 2027.1M2033.6 2013.8L2044.2 2024.4M2033.6 2024.4L2044.2 2013.8M2041.8 2026L2057.8 2026M2049.8 2018L2049.8 2034M2044.5 2020.7L2055.1 2031.3M2044.5 2031.3L2055.1 2020.7M2052.8 1988.8L2068.8 1988.8M2060.8 1980.8L2060.8 1996.8M2055.5 1983.5L2066.1 1994.1M2055.5 1994.1L2066.1 1983.5M2063.8 1967.8L2079.8 1967.8M2071.8 1959.8L2071.8 1975.8M2066.5 1962.5L2077.1 1973.1M2066.5 1973.1L2077.1 1962.5M2074.7 1907L2090.7 1907M2082.7 1899L2082.7 1915M2077.4 1901.7L2088 1912.3M2077.4 1912.3L2088 1901.7M2085.7 1859.4L2101.7 1859.4M2093.7 1851.4L2093.7 1867.4M2088.4 1854.1L2099 1864.7M2088.4 1864.7L2099 1854.1M2096.6 1936.9L2112.6 1936.9M2104.6 1928.9L2104.6 1944.9M2099.3 1931.6L2109.9 1942.2M2099.3 1942.2L2109.9 1931.6M2107.6 1795.4L2123.6 1795.4M2115.6 1787.4L2115.6 1803.4M2110.3 1790.1L2120.9 1800.7M2110.3 1800.7L2120.9 1790.1M2118.5 1683.2L2134.5 1683.2M2126.5 1675.2L2126.5 1691.2M2121.2 1677.9L2131.8 1688.5M2121.2 1688.5L2131.8 1677.9M2129.5 1780.7L2145.5 1780.7M2137.5 1772.7L2137.5 1788.7M2132.2 1775.4L2142.8 1786M2132.2 1786L2142.8 1775.4M2140.4 1964.3L2156.4 1964.3M2148.4 1956.3L2148.4 1972.3M2143.1 1959L2153.7 1969.6M2143.1 1969.6L2153.7 1959M2151.4 1993.3L2167.4 1993.3M2159.4 1985.3L2159.4 2001.3M2154.1 1988L2164.7 1998.6M2154.1 1998.6L2164.7 1988M2162.4 1991.9L2178.4 1991.9M2170.4 1983.9L2170.4 1999.9M2165.1 1986.6L2175.7 1997.2M2165.1 1997.2L2175.7 1986.6M2173.3 2001.8L2189.3 2001.8M2181.3 1993.8L2181.3 2009.8M2176 1996.5L2186.6 2007.1M2176 2007.1L2186.6 1996.5M2184.3 2004.7L2200.3 2004.7M2192.3 1996.7L2192.3 2012.7M2187 1999.4L2197.6 2010M2187 2010L2197.6 1999.4M2195.2 1989.4L2211.2 1989.4M2203.2 1981.4L2203.2 1997.4M2197.9 1984.1L2208.5 1994.7M2197.9 1994.7L2208.5 1984.1M2206.2 1999L2222.2 1999M2214.2 1991L2214.2 2007M2208.9 1993.7L2219.5 2004.3M2208.9 2004.3L2219.5 1993.7M2217.1 2007.5L2233.1 2007.5M2225.1 1999.5L2225.1 2015.5M2219.8 2002.2L2230.4 2012.8M2219.8 2012.8L2230.4 2002.2M2228.1 2030.1L2244.1 2030.1M2236.1 2022.1L2236.1 2038.1M2230.8 2024.8L2241.4 2035.4M2230.8 2035.4L2241.4 2024.8M2239.1 2025.9L2255.1 2025.9M2247.1 2017.9L2247.1 2033.9M2241.8 2020.6L2252.4 2031.2M2241.8 2031.2L2252.4 2020.6M2250 2020.3L2266 2020.3M2258 2012.3L2258 2028.3M2252.7 2015L2263.3 2025.6M2252.7 2025.6L2263.3 2015M2261 2014.6L2277 2014.6M2269 2006.6L2269 2022.6M2263.7 2009.3L2274.3 2019.9M2263.7 2019.9L2274.3 2009.3M2271.9 2000.4L2287.9 2000.4M2279.9 1992.4L2279.9 2008.4M2274.6 1995.1L2285.2 2005.7M2274.6 2005.7L2285.2 1995.1M2282.9 2002.5L2298.9 2002.5M2290.9 1994.5L2290.9 2010.5M2285.6 1997.2L2296.2 2007.8M2285.6 2007.8L2296.2 1997.2M2293.8 2003.3L2309.8 2003.3M2301.8 1995.3L2301.8 2011.3M2296.5 1998L2307.1 2008.6M2296.5 2008.6L2307.1 1998M2304.8 2001.8L2320.8 2001.8M2312.8 1993.8L2312.8 2009.8M2307.5 1996.5L2318.1 2007.1M2307.5 2007.1L2318.1 1996.5M2315.7 1996.1L2331.7 1996.1M2323.7 1988.1L2323.7 2004.1M2318.4 1990.8L2329 2001.4M2318.4 2001.4L2329 1990.8M2326.7 1986.3L2342.7 1986.3M2334.7 1978.3L2334.7 1994.3M2329.4 1981L2340 1991.6M2329.4 1991.6L2340 1981" fill="none" stroke="#00ff00" stroke-width="4.0" stroke-linejoin="miter" stroke-linecap="butt" shape-rendering="crispEdges"/>
<polyline clip-path="url(#clip2)" points="154.5,2127.8 165.4,2015.6 176.4,2036.8 187.3,2066.8 198.3,2090.5 209.2,2101.5 220.2,2107.8 231.1,2112.6 242.1,2096.8 253.1,2120.5 264,2125.2 275,2131.5 285.9,2136.2 296.9,2139.8 307.8,2142.5 318.8,2144.2 329.8,2146 340.7,2147.8 351.7,2149.6 362.6,2151.4 373.6,2152.3 384.5,2154 395.5,2154.9 406.4,2155.8 417.4,2155.8 428.4,2155.8 439.3,2155.8 450.3,2155.8 461.2,2155.8 472.2,2156.7 483.1,2155.8 494.1,2129.1 505,2153.1 516,2154.9 527,2154 537.9,2130.9 548.9,2148.7 559.8,2146.9 570.8,2147.8 581.7,2148.7 592.7,2134.5 603.7,2146 614.6,2149.6 625.6,2151.4 636.5,2151.4 647.5,2149.1 658.4,2149.1 669.4,2149.1 680.3,2149.1 691.3,2141.8 702.3,2149.1 713.2,2148.1 724.2,2146 735.1,2143.9 746.1,2142.8 757,2145 768,2147 778.9,2146 789.9,2141.8 800.9,2140.7 811.8,2141.8 822.8,2139.8 833.7,2139.8 844.7,2138.6 855.6,2137.6 866.6,2131.3 877.6,2113.1 888.5,2139.1 899.5,2139.1 910.4,2139.1 921.4,2139.1 932.3,2137.1 943.3,2133.4 954.2,2132.2 965.2,2134 976.2,2136.5 987.1,2119.7 998.1,2114.9 1009,2105.1 1020,2085.1 1030.9,2085.1 1041.9,2097.9 1052.8,2115.3 1063.8,2097.9 1074.8,2099.4 1085.7,2108.6 1096.7,2094 1107.6,2097.9 1118.6,2086.8 1129.5,2038.8 1140.5,2112 1151.5,2053 1162.4,2103.4 1173.4,2105.4 1184.3,2058.5 1195.3,2106.5 1206.2,2115.3 1217.2,2080.3 1228.1,2092.1 1239.1,2070.1 1250.1,2032.3 1261,1946.6 1272,1937 1282.9,1966.7 1293.9,1948.1 1304.8,1987.6 1315.8,2023.7 1326.7,1955 1337.7,1878.1 1348.7,2015.6 1359.6,2016.8 1370.6,1995.8 1381.5,2031.9 1392.5,2035.4 1403.4,2093.5 1414.4,2075.4 1425.4,2075 1436.3,1952.9 1447.3,2093.5 1458.2,2096.2 1469.2,2002.7 1480.1,2089.1 1491.1,2093.5 1502,2056.1 1513,2086.7 1524,2073.8 1534.9,2086.7 1545.9,2084.3 1556.8,2091.3 1567.8,2080.2 1578.7,2088.3 1589.7,2050.8 1600.6,2062.2 1611.6,2072.1 1622.6,2068 1633.5,2096 1644.5,2094.8 1655.4,2081.9 1666.4,2081.9 1677.3,2070.4 1688.3,2037.7 1699.3,2049.4 1710.2,2051.7 1721.2,2048.2 1732.1,2002.8 1743.1,2070.4 1754,1962.7 1765,1960.9 1775.9,2084.3 1786.9,2098.3 1797.9,2096 1808.8,2085.5 1819.8,2063.3 1830.7,2063.3 1841.7,2075 1852.6,2091.3 1863.6,2070.4 1874.5,2068.6 1885.5,2028.5 1896.5,2075 1907.4,2061 1918.4,2036.5 1929.3,2014.5 1940.3,2081.9 1951.2,2047 1962.2,2059.9 1973.2,1924.7 1984.1,2025 1995.1,2052.8 2006,2075 2017,2030.8 2027.9,2076.2 2038.9,2076.2 2049.8,2004 2060.8,2041.2 2071.8,2065.7 2082.7,2065 2093.7,2053.9 2104.6,2053.5 2115.6,2055.5 2126.5,2051.9 2137.5,2051.4 2148.4,2053.5 2159.4,2055.7 2170.4,2058.5 2181.3,2045 2192.3,2040.1 2203.2,1956.5 2214.2,2055 2225.1,2055 2236.1,2062.7 2247.1,2011 2258,2036.5 2269,2048.6 2279.9,2053.5 2290.9,2060.6 2301.8,2060 2312.8,2065.6 2323.7,2067 2334.7,2069.8" fill="none" stroke="#ff00ff" stroke-width="4.0" stroke-linejoin="miter" shape-rendering="crispEdges"/>
<path d="M149.1 2122.4L159.9 2133.2M149.1 2133.2L159.9 2122.4M160 2010.2L170.8 2021M160 2021L170.8 2010.2M171 2031.4L181.8 2042.2M171 2042.2L181.8 2031.4M181.9 2061.4L192.7 2072.2M181.9 2072.2L192.7 2061.4M192.9 2085.1L203.7 2095.9M192.9 2095.9L203.7 2085.1M203.8 2096.1L214.6 2106.9M203.8 2106.9L214.6 2096.1M214.8 2102.4L225.6 2113.2M214.8 2113.2L225.6 2102.4M225.7 2107.2L236.5 2118M225.7 2118L236.5 2107.2M236.7 2091.4L247.5 2102.2M236.7 2102.2L247.5 2091.4M247.7 2115.1L258.5 2125.9M247.7 2125.9L258.5 2115.1M258.6 2119.8L269.4 2130.6M258.6 2130.6L269.4 2119.8M269.6 2126.1L280.4 2136.9M269.6 2136.9L280.4 2126.1M280.5 2130.8L291.3 2141.6M280.5 2141.6L291.3 2130.8M291.5 2134.4L302.3 2145.2M291.5 2145.2L302.3 2134.4M302.4 2137.1L313.2 2147.9M302.4 2147.9L313.2 2137.1M313.4 2138.8L324.2 2149.6M313.4 2149.6L324.2 2138.8M324.4 2140.6L335.2 2151.4M324.4 2151.4L335.2 2140.6M335.3 2142.4L346.1 2153.2M335.3 2153.2L346.1 2142.4M346.3 2144.2L357.1 2155M346.3 2155L357.1 2144.2M357.2 2146L368 2156.8M357.2 2156.8L368 2146M368.2 2146.9L379 2157.7M368.2 2157.7L379 2146.9M379.1 2148.6L389.9 2159.4M379.1 2159.4L389.9 2148.6M390.1 2149.5L400.9 2160.3M390.1 2160.3L400.9 2149.5M401 2150.4L411.8 2161.2M401 2161.2L411.8 2150.4M412 2150.4L422.8 2161.2M412 2161.2L422.8 2150.4M423 2150.4L433.8 2161.2M423 2161.2L433.8 2150.4M433.9 2150.4L444.7 2161.2M433.9 2161.2L444.7 2150.4M444.9 2150.4L455.7 2161.2M444.9 2161.2L455.7 2150.4M455.8 2150.4L466.6 2161.2M455.8 2161.2L466.6 2150.4M466.8 2151.3L477.6 2162.1M466.8 2162.1L477.6 2151.3M477.7 2150.4L488.5 2161.2M477.7 2161.2L488.5 2150.4M488.7 2123.7L499.5 2134.5M488.7 2134.5L499.5 2123.7M499.6 2147.7L510.4 2158.5M499.6 2158.5L510.4 2147.7M510.6 2149.5L521.4 2160.3M510.6 2160.3L521.4 2149.5M521.6 2148.6L532.4 2159.4M521.6 2159.4L532.4 2148.6M532.5 2125.5L543.3 2136.3M532.5 2136.3L543.3 2125.5M543.5 2143.3L554.3 2154.1M543.5 2154.1L554.3 2143.3M554.4 2141.5L565.2 2152.3M554.4 2152.3L565.2 2141.5M565.4 2142.4L576.2 2153.2M565.4 2153.2L576.2 2142.4M576.3 2143.3L587.1 2154.1M576.3 2154.1L587.1 2143.3M587.3 2129.1L598.1 2139.9M587.3 2139.9L598.1 2129.1M598.3 2140.6L609.1 2151.4M598.3 2151.4L609.1 2140.6M609.2 2144.2L620 2155M609.2 2155L620 2144.2M620.2 2146L631 2156.8M620.2 2156.8L631 2146M631.1 2146L641.9 2156.8M631.1 2156.8L641.9 2146M642.1 2143.7L652.9 2154.5M642.1 2154.5L652.9 2143.7M653 2143.7L663.8 2154.5M653 2154.5L663.8 2143.7M664 2143.7L674.8 2154.5M664 2154.5L674.8 2143.7M674.9 2143.7L685.7 2154.5M674.9 2154.5L685.7 2143.7M685.9 2136.4L696.7 2147.2M685.9 2147.2L696.7 2136.4M696.9 2143.7L707.7 2154.5M696.9 2154.5L707.7 2143.7M707.8 2142.7L718.6 2153.5M707.8 2153.5L718.6 2142.7M718.8 2140.6L729.6 2151.4M718.8 2151.4L729.6 2140.6M729.7 2138.5L740.5 2149.3M729.7 2149.3L740.5 2138.5M740.7 2137.4L751.5 2148.2M740.7 2148.2L751.5 2137.4M751.6 2139.6L762.4 2150.4M751.6 2150.4L762.4 2139.6M762.6 2141.6L773.4 2152.4M762.6 2152.4L773.4 2141.6M773.5 2140.6L784.3 2151.4M773.5 2151.4L784.3 2140.6M784.5 2136.4L795.3 2147.2M784.5 2147.2L795.3 2136.4M795.5 2135.3L806.3 2146.1M795.5 2146.1L806.3 2135.3M806.4 2136.4L817.2 2147.2M806.4 2147.2L817.2 2136.4M817.4 2134.4L828.2 2145.2M817.4 2145.2L828.2 2134.4M828.3 2134.4L839.1 2145.2M828.3 2145.2L839.1 2134.4M839.3 2133.2L850.1 2144M839.3 2144L850.1 2133.2M850.2 2132.2L861 2143M850.2 2143L861 2132.2M861.2 2125.9L872 2136.7M861.2 2136.7L872 2125.9M872.2 2107.7L883 2118.5M872.2 2118.5L883 2107.7M883.1 2133.7L893.9 2144.5M883.1 2144.5L893.9 2133.7M894.1 2133.7L904.9 2144.5M894.1 2144.5L904.9 2133.7M905 2133.7L915.8 2144.5M905 2144.5L915.8 2133.7M916 2133.7L926.8 2144.5M916 2144.5L926.8 2133.7M926.9 2131.7L937.7 2142.5M926.9 2142.5L937.7 2131.7M937.9 2128L948.7 2138.8M937.9 2138.8L948.7 2128M948.8 2126.8L959.6 2137.6M948.8 2137.6L959.6 2126.8M959.8 2128.6L970.6 2139.4M959.8 2139.4L970.6 2128.6M970.8 2131.1L981.6 2141.9M970.8 2141.9L981.6 2131.1M981.7 2114.3L992.5 2125.1M981.7 2125.1L992.5 2114.3M992.7 2109.5L1003.5 2120.3M992.7 2120.3L1003.5 2109.5M1003.6 2099.7L1014.4 2110.5M1003.6 2110.5L1014.4 2099.7M1014.6 2079.7L1025.4 2090.5M1014.6 2090.5L1025.4 2079.7M1025.5 2079.7L1036.3 2090.5M1025.5 2090.5L1036.3 2079.7M1036.5 2092.5L1047.3 2103.3M1036.5 2103.3L1047.3 2092.5M1047.4 2109.9L1058.2 2120.7M1047.4 2120.7L1058.2 2109.9M1058.4 2092.5L1069.2 2103.3M1058.4 2103.3L1069.2 2092.5M1069.4 2094L1080.2 2104.8M1069.4 2104.8L1080.2 2094M1080.3 2103.2L1091.1 2114M1080.3 2114L1091.1 2103.2M1091.3 2088.6L1102.1 2099.4M1091.3 2099.4L1102.1 2088.6M1102.2 2092.5L1113 2103.3M1102.2 2103.3L1113 2092.5M1113.2 2081.4L1124 2092.2M1113.2 2092.2L1124 2081.4M1124.1 2033.4L1134.9 2044.2M1124.1 2044.2L1134.9 2033.4M1135.1 2106.6L1145.9 2117.4M1135.1 2117.4L1145.9 2106.6M1146.1 2047.6L1156.9 2058.4M1146.1 2058.4L1156.9 2047.6M1157 2098L1167.8 2108.8M1157 2108.8L1167.8 2098M1168 2100L1178.8 2110.8M1168 2110.8L1178.8 2100M1178.9 2053.1L1189.7 2063.9M1178.9 2063.9L1189.7 2053.1M1189.9 2101.1L1200.7 2111.9M1189.9 2111.9L1200.7 2101.1M1200.8 2109.9L1211.6 2120.7M1200.8 2120.7L1211.6 2109.9M1211.8 2074.9L1222.6 2085.7M1211.8 2085.7L1222.6 2074.9M1222.7 2086.7L1233.5 2097.5M1222.7 2097.5L1233.5 2086.7M1233.7 2064.7L1244.5 2075.5M1233.7 2075.5L1244.5 2064.7M1244.7 2026.9L1255.5 2037.7M1244.7 2037.7L1255.5 2026.9M1255.6 1941.2L1266.4 1952M1255.6 1952L1266.4 1941.2M1266.6 1931.6L1277.4 1942.4M1266.6 1942.4L1277.4 1931.6M1277.5 1961.3L1288.3 1972.1M1277.5 1972.1L1288.3 1961.3M1288.5 1942.7L1299.3 1953.5M1288.5 1953.5L1299.3 1942.7M1299.4 1982.2L1310.2 1993M1299.4 1993L1310.2 1982.2M1310.4 2018.3L1321.2 2029.1M1310.4 2029.1L1321.2 2018.3M1321.3 1949.6L1332.1 1960.4M1321.3 1960.4L1332.1 1949.6M1332.3 1872.7L1343.1 1883.5M1332.3 1883.5L1343.1 1872.7M1343.3 2010.2L1354.1 2021M1343.3 2021L1354.1 2010.2M1354.2 2011.4L1365 2022.2M1354.2 2022.2L1365 2011.4M1365.2 1990.4L1376 2001.2M1365.2 2001.2L1376 1990.4M1376.1 2026.5L1386.9 2037.3M1376.1 2037.3L1386.9 2026.5M1387.1 2030L1397.9 2040.8M1387.1 2040.8L1397.9 2030M1398 2088.1L1408.8 2098.9M1398 2098.9L1408.8 2088.1M1409 2070L1419.8 2080.8M1409 2080.8L1419.8 2070M1420 2069.6L1430.8 2080.4M1420 2080.4L1430.8 2069.6M1430.9 1947.5L1441.7 1958.3M1430.9 1958.3L1441.7 1947.5M1441.9 2088.1L1452.7 2098.9M1441.9 2098.9L1452.7 2088.1M1452.8 2090.8L1463.6 2101.6M1452.8 2101.6L1463.6 2090.8M1463.8 1997.3L1474.6 2008.1M1463.8 2008.1L1474.6 1997.3M1474.7 2083.7L1485.5 2094.5M1474.7 2094.5L1485.5 2083.7M1485.7 2088.1L1496.5 2098.9M1485.7 2098.9L1496.5 2088.1M1496.6 2050.7L1507.4 2061.5M1496.6 2061.5L1507.4 2050.7M1507.6 2081.3L1518.4 2092.1M1507.6 2092.1L1518.4 2081.3M1518.6 2068.4L1529.4 2079.2M1518.6 2079.2L1529.4 2068.4M1529.5 2081.3L1540.3 2092.1M1529.5 2092.1L1540.3 2081.3M1540.5 2078.9L1551.3 2089.7M1540.5 2089.7L1551.3 2078.9M1551.4 2085.9L1562.2 2096.7M1551.4 2096.7L1562.2 2085.9M1562.4 2074.8L1573.2 2085.6M1562.4 2085.6L1573.2 2074.8M1573.3 2082.9L1584.1 2093.7M1573.3 2093.7L1584.1 2082.9M1584.3 2045.4L1595.1 2056.2M1584.3 2056.2L1595.1 2045.4M1595.2 2056.8L1606 2067.6M1595.2 2067.6L1606 2056.8M1606.2 2066.7L1617 2077.5M1606.2 2077.5L1617 2066.7M1617.2 2062.6L1628 2073.4M1617.2 2073.4L1628 2062.6M1628.1 2090.6L1638.9 2101.4M1628.1 2101.4L1638.9 2090.6M1639.1 2089.4L1649.9 2100.2M1639.1 2100.2L1649.9 2089.4M1650 2076.5L1660.8 2087.3M1650 2087.3L1660.8 2076.5M1661 2076.5L1671.8 2087.3M1661 2087.3L1671.8 2076.5M1671.9 2065L1682.7 2075.8M1671.9 2075.8L1682.7 2065M1682.9 2032.3L1693.7 2043.1M1682.9 2043.1L1693.7 2032.3M1693.9 2044L1704.7 2054.8M1693.9 2054.8L1704.7 2044M1704.8 2046.3L1715.6 2057.1M1704.8 2057.1L1715.6 2046.3M1715.8 2042.8L1726.6 2053.6M1715.8 2053.6L1726.6 2042.8M1726.7 1997.4L1737.5 2008.2M1726.7 2008.2L1737.5 1997.4M1737.7 2065L1748.5 2075.8M1737.7 2075.8L1748.5 2065M1748.6 1957.3L1759.4 1968.1M1748.6 1968.1L1759.4 1957.3M1759.6 1955.5L1770.4 1966.3M1759.6 1966.3L1770.4 1955.5M1770.5 2078.9L1781.3 2089.7M1770.5 2089.7L1781.3 2078.9M1781.5 2092.9L1792.3 2103.7M1781.5 2103.7L1792.3 2092.9M1792.5 2090.6L1803.3 2101.4M1792.5 2101.4L1803.3 2090.6M1803.4 2080.1L1814.2 2090.9M1803.4 2090.9L1814.2 2080.1M1814.4 2057.9L1825.2 2068.7M1814.4 2068.7L1825.2 2057.9M1825.3 2057.9L1836.1 2068.7M1825.3 2068.7L1836.1 2057.9M1836.3 2069.6L1847.1 2080.4M1836.3 2080.4L1847.1 2069.6M1847.2 2085.9L1858 2096.7M1847.2 2096.7L1858 2085.9M1858.2 2065L1869 2075.8M1858.2 2075.8L1869 2065M1869.1 2063.2L1879.9 2074M1869.1 2074L1879.9 2063.2M1880.1 2023.1L1890.9 2033.9M1880.1 2033.9L1890.9 2023.1M1891.1 2069.6L1901.9 2080.4M1891.1 2080.4L1901.9 2069.6M1902 2055.6L1912.8 2066.4M1902 2066.4L1912.8 2055.6M1913 2031.1L1923.8 2041.9M1913 2041.9L1923.8 2031.1M1923.9 2009.1L1934.7 2019.9M1923.9 2019.9L1934.7 2009.1M1934.9 2076.5L1945.7 2087.3M1934.9 2087.3L1945.7 2076.5M1945.8 2041.6L1956.6 2052.4M1945.8 2052.4L1956.6 2041.6M1956.8 2054.5L1967.6 2065.3M1956.8 2065.3L1967.6 2054.5M1967.8 1919.3L1978.6 1930.1M1967.8 1930.1L1978.6 1919.3M1978.7 2019.6L1989.5 2030.4M1978.7 2030.4L1989.5 2019.6M1989.7 2047.4L2000.5 2058.2M1989.7 2058.2L2000.5 2047.4M2000.6 2069.6L2011.4 2080.4M2000.6 2080.4L2011.4 2069.6M2011.6 2025.4L2022.4 2036.2M2011.6 2036.2L2022.4 2025.4M2022.5 2070.8L2033.3 2081.6M2022.5 2081.6L2033.3 2070.8M2033.5 2070.8L2044.3 2081.6M2033.5 2081.6L2044.3 2070.8M2044.4 1998.6L2055.2 2009.4M2044.4 2009.4L2055.2 1998.6M2055.4 2035.8L2066.2 2046.6M2055.4 2046.6L2066.2 2035.8M2066.4 2060.3L2077.2 2071.1M2066.4 2071.1L2077.2 2060.3M2077.3 2059.6L2088.1 2070.4M2077.3 2070.4L2088.1 2059.6M2088.3 2048.5L2099.1 2059.3M2088.3 2059.3L2099.1 2048.5M2099.2 2048.1L2110 2058.9M2099.2 2058.9L2110 2048.1M2110.2 2050.1L2121 2060.9M2110.2 2060.9L2121 2050.1M2121.1 2046.5L2131.9 2057.3M2121.1 2057.3L2131.9 2046.5M2132.1 2046L2142.9 2056.8M2132.1 2056.8L2142.9 2046M2143 2048.1L2153.8 2058.9M2143 2058.9L2153.8 2048.1M2154 2050.3L2164.8 2061.1M2154 2061.1L2164.8 2050.3M2165 2053.1L2175.8 2063.9M2165 2063.9L2175.8 2053.1M2175.9 2039.6L2186.7 2050.4M2175.9 2050.4L2186.7 2039.6M2186.9 2034.7L2197.7 2045.5M2186.9 2045.5L2197.7 2034.7M2197.8 1951.1L2208.6 1961.9M2197.8 1961.9L2208.6 1951.1M2208.8 2049.6L2219.6 2060.4M2208.8 2060.4L2219.6 2049.6M2219.7 2049.6L2230.5 2060.4M2219.7 2060.4L2230.5 2049.6M2230.7 2057.3L2241.5 2068.1M2230.7 2068.1L2241.5 2057.3M2241.7 2005.6L2252.5 2016.4M2241.7 2016.4L2252.5 2005.6M2252.6 2031.1L2263.4 2041.9M2252.6 2041.9L2263.4 2031.1M2263.6 2043.2L2274.4 2054M2263.6 2054L2274.4 2043.2M2274.5 2048.1L2285.3 2058.9M2274.5 2058.9L2285.3 2048.1M2285.5 2055.2L2296.3 2066M2285.5 2066L2296.3 2055.2M2296.4 2054.6L2307.2 2065.4M2296.4 2065.4L2307.2 2054.6M2307.4 2060.2L2318.2 2071M2307.4 2071L2318.2 2060.2M2318.3 2061.6L2329.1 2072.4M2318.3 2072.4L2329.1 2061.6M2329.3 2064.4L2340.1 2075.2M2329.3 2075.2L2340.1 2064.4" fill="none" stroke="#ff00ff" stroke-width="4.0" stroke-linejoin="miter" stroke-linecap="butt" shape-rendering="crispEdges"/>
<polyline clip-path="url(#clip2)" points="154.5,2149.9 165.4,1958.8 176.4,1997.4 187.3,2030.5 198.3,2054.2 209.2,2062.1 220.2,2071.5 231.1,2081.1 242.1,2073.8 253.1,2095.3 264,2107.8 275,2113.1 285.9,2117.5 296.9,2123.8 307.8,2129.1 318.8,2133.6 329.8,2134.5 340.7,2139.8 351.7,2143.8 362.6,2146 373.6,2146.9 384.5,2152.3 395.5,2153.1 406.4,2153.1 417.4,2153.1 428.4,2153.1 439.3,2153.1 450.3,2154 461.2,2154 472.2,2155.4 483.1,2154 494.1,2116.9 505,2151.4 516,2153.1 527,2152.3 537.9,2122.9 548.9,2146 559.8,2143.8 570.8,2145.1 581.7,2146 592.7,2128.7 603.7,2142.7 614.6,2147.8 625.6,2150.5 636.5,2150.5 647.5,2149.1 658.4,2149.1 669.4,2149.1 680.3,2149.1 691.3,2141.8 702.3,2149.1 713.2,2148.1 724.2,2146 735.1,2143.9 746.1,2142.8 757,2145 768,2147 778.9,2146 789.9,2141.8 800.9,2140.7 811.8,2141.8 822.8,2139.8 833.7,2139.8 844.7,2138.6 855.6,2137.6 866.6,2131.3 877.6,2117.6 888.5,2141.8 899.5,2141.8 910.4,2141.8 921.4,2141.8 932.3,2139.8 943.3,2133.4 954.2,2132.2 965.2,2134 976.2,2136.5 987.1,2119.7 998.1,2114.9 1009,2105.1 1020,2085.1 1030.9,2085.1 1041.9,2099.2 1052.8,2116.7 1063.8,2099.2 1074.8,2100.8 1085.7,2109.9 1096.7,2095.3 1107.6,2099.2 1118.6,2088.2 1129.5,2040.1 1140.5,2113.4 1151.5,2054.3 1162.4,2104.7 1173.4,2106.8 1184.3,2059.9 1195.3,2107.8 1206.2,2116.7 1217.2,2080.3 1228.1,2126 1239.1,2126 1250.1,2125.6 1261,2107 1272,2107 1282.9,2095.3 1293.9,2124.2 1304.8,2126.4 1315.8,2124.1 1326.7,2123 1337.7,2119.5 1348.7,2118.3 1359.6,2118.6 1370.6,2123 1381.5,2118.3 1392.5,2047.5 1403.4,2110.2 1414.4,2102.2 1425.4,2114.9 1436.3,1918.3 1447.3,2089.4 1458.2,2104.4 1469.2,1975.3 1480.1,2059.2 1491.1,2086.9 1502,2045.2 1513,2082.2 1524,2090.4 1534.9,2090.4 1545.9,2037 1556.8,2114.9 1567.8,2111.5 1578.7,2110.2 1589.7,2043.2 1600.6,2040.6 1611.6,2053.1 1622.6,2050.5 1633.5,2106.7 1644.5,2110.2 1655.4,2106.7 1666.4,2105.1 1677.3,2121.8 1688.3,2123 1699.3,2123 1710.2,2114.9 1721.2,2118.3 1732.1,2107.4 1743.1,2112.5 1754,2103.4 1765,2101.5 1775.9,2110.2 1786.9,2114.9 1797.9,2114.9 1808.8,2109 1819.8,2109 1830.7,2116 1841.7,2118.3 1852.6,2112.5 1863.6,2064.3 1874.5,2105.5 1885.5,2110.2 1896.5,2110.2 1907.4,2112.5 1918.4,2107.8 1929.3,2104.4 1940.3,2099.7 1951.2,2095 1962.2,2081.3 1973.2,1964.4 1984.1,2048.7 1995.1,2103.2 2006,2105.5 2017,2099.9 2027.9,2114.9 2038.9,2109 2049.8,2096.2 2060.8,2072 2071.8,2100.9 2082.7,2079.7 2093.7,2045.1 2104.6,2033.3 2115.6,2076.2 2126.5,2051.4 2137.5,2050 2148.4,2034.9 2159.4,2019.3 2170.4,2009.9 2181.3,2001.8 2192.3,2018.1 2203.2,1932.4 2214.2,2023.8 2225.1,2038 2236.1,2070.5 2247.1,2011.7 2258,2040.8 2269,2063.2 2279.9,2070.7 2290.9,2075.6 2301.8,2065.2 2312.8,2072.1 2323.7,2073.5 2334.7,2063.7" fill="none" stroke="#0000ff" stroke-width="4.0" stroke-linejoin="miter" shape-rendering="crispEdges"/>
<path d="M154.5 2159.2L162.5 2145.2L146.4 2145.2ZM165.4 1968.1L173.5 1954.2L157.4 1954.2ZM176.4 2006.7L184.4 1992.7L168.3 1992.7ZM187.3 2039.8L195.4 2025.8L179.3 2025.8ZM198.3 2063.5L206.3 2049.5L190.2 2049.5ZM209.2 2071.4L217.3 2057.4L201.2 2057.4ZM220.2 2080.8L228.2 2066.9L212.1 2066.9ZM231.1 2090.4L239.2 2076.4L223.1 2076.4ZM242.1 2083.1L250.2 2069.1L234 2069.1ZM253.1 2104.6L261.1 2090.6L245 2090.6ZM264 2117.1L272.1 2103.1L256 2103.1ZM275 2122.4L283 2108.4L266.9 2108.4ZM285.9 2126.8L294 2112.9L277.9 2112.9ZM296.9 2133.1L304.9 2119.1L288.8 2119.1ZM307.8 2138.4L315.9 2124.5L299.8 2124.5ZM318.8 2142.9L326.9 2128.9L310.7 2128.9ZM329.8 2143.8L337.8 2129.8L321.7 2129.8ZM340.7 2149.1L348.8 2135.1L332.7 2135.1ZM351.7 2153.1L359.7 2139.2L343.6 2139.2ZM362.6 2155.3L370.7 2141.4L354.6 2141.4ZM373.6 2156.2L381.6 2142.3L365.5 2142.3ZM384.5 2161.6L392.6 2147.6L376.5 2147.6ZM395.5 2162.4L403.5 2148.5L387.4 2148.5ZM406.4 2162.4L414.5 2148.5L398.4 2148.5ZM417.4 2162.4L425.5 2148.5L409.3 2148.5ZM428.4 2162.4L436.4 2148.5L420.3 2148.5ZM439.3 2162.4L447.4 2148.5L431.3 2148.5ZM450.3 2163.3L458.3 2149.4L442.2 2149.4ZM461.2 2163.3L469.3 2149.4L453.2 2149.4ZM472.2 2164.7L480.2 2150.7L464.1 2150.7ZM483.1 2163.3L491.2 2149.4L475.1 2149.4ZM494.1 2126.2L502.1 2112.3L486 2112.3ZM505 2160.7L513.1 2146.7L497 2146.7ZM516 2162.4L524.1 2148.5L507.9 2148.5ZM527 2161.6L535 2147.6L518.9 2147.6ZM537.9 2132.2L546 2118.2L529.9 2118.2ZM548.9 2155.3L556.9 2141.4L540.8 2141.4ZM559.8 2153.1L567.9 2139.2L551.8 2139.2ZM570.8 2154.4L578.8 2140.5L562.7 2140.5ZM581.7 2155.3L589.8 2141.4L573.7 2141.4ZM592.7 2138L600.8 2124L584.6 2124ZM603.7 2152L611.7 2138.1L595.6 2138.1ZM614.6 2157.1L622.7 2143.2L606.6 2143.2ZM625.6 2159.8L633.6 2145.8L617.5 2145.8ZM636.5 2159.8L644.6 2145.8L628.5 2145.8ZM647.5 2158.4L655.5 2144.5L639.4 2144.5ZM658.4 2158.4L666.5 2144.5L650.4 2144.5ZM669.4 2158.4L677.4 2144.5L661.3 2144.5ZM680.3 2158.4L688.4 2144.5L672.3 2144.5ZM691.3 2151.1L699.4 2137.1L683.2 2137.1ZM702.3 2158.4L710.3 2144.5L694.2 2144.5ZM713.2 2157.4L721.3 2143.4L705.2 2143.4ZM724.2 2155.3L732.2 2141.4L716.1 2141.4ZM735.1 2153.2L743.2 2139.2L727.1 2139.2ZM746.1 2152.1L754.1 2138.2L738 2138.2ZM757 2154.3L765.1 2140.3L749 2140.3ZM768 2156.3L776 2142.4L759.9 2142.4ZM778.9 2155.3L787 2141.4L770.9 2141.4ZM789.9 2151.1L798 2137.1L781.8 2137.1ZM800.9 2150L808.9 2136L792.8 2136ZM811.8 2151.1L819.9 2137.1L803.8 2137.1ZM822.8 2149.1L830.8 2135.1L814.7 2135.1ZM833.7 2149.1L841.8 2135.1L825.7 2135.1ZM844.7 2147.9L852.7 2134L836.6 2134ZM855.6 2146.9L863.7 2132.9L847.6 2132.9ZM866.6 2140.6L874.7 2126.6L858.5 2126.6ZM877.6 2126.9L885.6 2113L869.5 2113ZM888.5 2151.1L896.6 2137.1L880.5 2137.1ZM899.5 2151.1L907.5 2137.1L891.4 2137.1ZM910.4 2151.1L918.5 2137.1L902.4 2137.1ZM921.4 2151.1L929.4 2137.1L913.3 2137.1ZM932.3 2149.1L940.4 2135.1L924.3 2135.1ZM943.3 2142.7L951.3 2128.7L935.2 2128.7ZM954.2 2141.5L962.3 2127.6L946.2 2127.6ZM965.2 2143.3L973.3 2129.4L957.1 2129.4ZM976.2 2145.8L984.2 2131.9L968.1 2131.9ZM987.1 2129L995.2 2115.1L979.1 2115.1ZM998.1 2124.2L1006.1 2110.2L990 2110.2ZM1009 2114.4L1017.1 2100.4L1001 2100.4ZM1020 2094.4L1028 2080.4L1011.9 2080.4ZM1030.9 2094.4L1039 2080.4L1022.9 2080.4ZM1041.9 2108.5L1049.9 2094.6L1033.8 2094.6ZM1052.8 2126L1060.9 2112L1044.8 2112ZM1063.8 2108.5L1071.9 2094.6L1055.7 2094.6ZM1074.8 2110.1L1082.8 2096.1L1066.7 2096.1ZM1085.7 2119.2L1093.8 2105.2L1077.7 2105.2ZM1096.7 2104.6L1104.7 2090.6L1088.6 2090.6ZM1107.6 2108.5L1115.7 2094.6L1099.6 2094.6ZM1118.6 2097.5L1126.6 2083.5L1110.5 2083.5ZM1129.5 2049.4L1137.6 2035.5L1121.5 2035.5ZM1140.5 2122.7L1148.6 2108.7L1132.4 2108.7ZM1151.5 2063.6L1159.5 2049.7L1143.4 2049.7ZM1162.4 2114L1170.5 2100.1L1154.4 2100.1ZM1173.4 2116.1L1181.4 2102.1L1165.3 2102.1ZM1184.3 2069.2L1192.4 2055.2L1176.3 2055.2ZM1195.3 2117.1L1203.3 2103.2L1187.2 2103.2ZM1206.2 2126L1214.3 2112L1198.2 2112ZM1217.2 2089.6L1225.2 2075.7L1209.1 2075.7ZM1228.1 2135.3L1236.2 2121.4L1220.1 2121.4ZM1239.1 2135.3L1247.2 2121.4L1231 2121.4ZM1250.1 2134.9L1258.1 2120.9L1242 2120.9ZM1261 2116.3L1269.1 2102.4L1253 2102.4ZM1272 2116.3L1280 2102.4L1263.9 2102.4ZM1282.9 2104.6L1291 2090.6L1274.9 2090.6ZM1293.9 2133.5L1301.9 2119.6L1285.8 2119.6ZM1304.8 2135.7L1312.9 2121.8L1296.8 2121.8ZM1315.8 2133.4L1323.8 2119.5L1307.7 2119.5ZM1326.7 2132.3L1334.8 2118.3L1318.7 2118.3ZM1337.7 2128.8L1345.8 2114.9L1329.6 2114.9ZM1348.7 2127.6L1356.7 2113.7L1340.6 2113.7ZM1359.6 2127.9L1367.7 2113.9L1351.6 2113.9ZM1370.6 2132.3L1378.6 2118.3L1362.5 2118.3ZM1381.5 2127.6L1389.6 2113.7L1373.5 2113.7ZM1392.5 2056.8L1400.5 2042.8L1384.4 2042.8ZM1403.4 2119.5L1411.5 2105.5L1395.4 2105.5ZM1414.4 2111.5L1422.5 2097.6L1406.3 2097.6ZM1425.4 2124.2L1433.4 2110.2L1417.3 2110.2ZM1436.3 1927.6L1444.4 1913.6L1428.3 1913.6ZM1447.3 2098.7L1455.3 2084.8L1439.2 2084.8ZM1458.2 2113.7L1466.3 2099.7L1450.2 2099.7ZM1469.2 1984.6L1477.2 1970.7L1461.1 1970.7ZM1480.1 2068.5L1488.2 2054.5L1472.1 2054.5ZM1491.1 2096.2L1499.1 2082.2L1483 2082.2ZM1502 2054.5L1510.1 2040.5L1494 2040.5ZM1513 2091.5L1521.1 2077.6L1504.9 2077.6ZM1524 2099.7L1532 2085.7L1515.9 2085.7ZM1534.9 2099.7L1543 2085.7L1526.9 2085.7ZM1545.9 2046.3L1553.9 2032.4L1537.8 2032.4ZM1556.8 2124.2L1564.9 2110.2L1548.8 2110.2ZM1567.8 2120.8L1575.8 2106.8L1559.7 2106.8ZM1578.7 2119.5L1586.8 2105.5L1570.7 2105.5ZM1589.7 2052.5L1597.7 2038.6L1581.6 2038.6ZM1600.6 2049.9L1608.7 2035.9L1592.6 2035.9ZM1611.6 2062.4L1619.7 2048.5L1603.5 2048.5ZM1622.6 2059.8L1630.6 2045.9L1614.5 2045.9ZM1633.5 2116L1641.6 2102L1625.5 2102ZM1644.5 2119.5L1652.5 2105.5L1636.4 2105.5ZM1655.4 2116L1663.5 2102L1647.4 2102ZM1666.4 2114.4L1674.4 2100.4L1658.3 2100.4ZM1677.3 2131.1L1685.4 2117.2L1669.3 2117.2ZM1688.3 2132.3L1696.4 2118.3L1680.2 2118.3ZM1699.3 2132.3L1707.3 2118.3L1691.2 2118.3ZM1710.2 2124.2L1718.3 2110.2L1702.2 2110.2ZM1721.2 2127.6L1729.2 2113.7L1713.1 2113.7ZM1732.1 2116.7L1740.2 2102.7L1724.1 2102.7ZM1743.1 2121.8L1751.1 2107.8L1735 2107.8ZM1754 2112.7L1762.1 2098.7L1746 2098.7ZM1765 2110.8L1773 2096.9L1756.9 2096.9ZM1775.9 2119.5L1784 2105.5L1767.9 2105.5ZM1786.9 2124.2L1795 2110.2L1778.8 2110.2ZM1797.9 2124.2L1805.9 2110.2L1789.8 2110.2ZM1808.8 2118.3L1816.9 2104.3L1800.8 2104.3ZM1819.8 2118.3L1827.8 2104.3L1811.7 2104.3ZM1830.7 2125.3L1838.8 2111.4L1822.7 2111.4ZM1841.7 2127.6L1849.7 2113.7L1833.6 2113.7ZM1852.6 2121.8L1860.7 2107.8L1844.6 2107.8ZM1863.6 2073.6L1871.6 2059.7L1855.5 2059.7ZM1874.5 2114.8L1882.6 2100.9L1866.5 2100.9ZM1885.5 2119.5L1893.6 2105.5L1877.4 2105.5ZM1896.5 2119.5L1904.5 2105.5L1888.4 2105.5ZM1907.4 2121.8L1915.5 2107.8L1899.4 2107.8ZM1918.4 2117.1L1926.4 2103.2L1910.3 2103.2ZM1929.3 2113.7L1937.4 2099.7L1921.3 2099.7ZM1940.3 2109L1948.3 2095.1L1932.2 2095.1ZM1951.2 2104.3L1959.3 2090.4L1943.2 2090.4ZM1962.2 2090.6L1970.3 2076.7L1954.1 2076.7ZM1973.2 1973.7L1981.2 1959.8L1965.1 1959.8ZM1984.1 2058L1992.2 2044L1976.1 2044ZM1995.1 2112.5L2003.1 2098.6L1987 2098.6ZM2006 2114.8L2014.1 2100.9L1998 2100.9ZM2017 2109.2L2025 2095.3L2008.9 2095.3ZM2027.9 2124.2L2036 2110.2L2019.9 2110.2ZM2038.9 2118.3L2046.9 2104.3L2030.8 2104.3ZM2049.8 2105.5L2057.9 2091.5L2041.8 2091.5ZM2060.8 2081.3L2068.9 2067.3L2052.7 2067.3ZM2071.8 2110.2L2079.8 2096.2L2063.7 2096.2ZM2082.7 2089L2090.8 2075.1L2074.7 2075.1ZM2093.7 2054.4L2101.7 2040.4L2085.6 2040.4ZM2104.6 2042.6L2112.7 2028.6L2096.6 2028.6ZM2115.6 2085.5L2123.6 2071.5L2107.5 2071.5ZM2126.5 2060.7L2134.6 2046.8L2118.5 2046.8ZM2137.5 2059.3L2145.5 2045.3L2129.4 2045.3ZM2148.4 2044.2L2156.5 2030.2L2140.4 2030.2ZM2159.4 2028.6L2167.5 2014.6L2151.3 2014.6ZM2170.4 2019.2L2178.4 2005.3L2162.3 2005.3ZM2181.3 2011.1L2189.4 1997.2L2173.3 1997.2ZM2192.3 2027.4L2200.3 2013.5L2184.2 2013.5ZM2203.2 1941.7L2211.3 1927.8L2195.2 1927.8ZM2214.2 2033.1L2222.2 2019.2L2206.1 2019.2ZM2225.1 2047.3L2233.2 2033.3L2217.1 2033.3ZM2236.1 2079.8L2244.2 2065.9L2228 2065.9ZM2247.1 2021L2255.1 2007.1L2239 2007.1ZM2258 2050.1L2266.1 2036.2L2250 2036.2ZM2269 2072.5L2277 2058.5L2260.9 2058.5ZM2279.9 2080L2288 2066.1L2271.9 2066.1ZM2290.9 2084.9L2298.9 2071L2282.8 2071ZM2301.8 2074.5L2309.9 2060.5L2293.8 2060.5ZM2312.8 2081.4L2320.8 2067.5L2304.7 2067.5ZM2323.7 2082.8L2331.8 2068.8L2315.7 2068.8ZM2334.7 2073L2342.8 2059.1L2326.6 2059.1Z" fill="none" stroke="#0000ff" stroke-width="4.0" stroke-linejoin="miter" stroke-linecap="butt" shape-rendering="crispEdges"/>
<g font-size="38" letter-spacing="0.9" fill="#262626"><text x="143.7" y="2218.8" text-anchor="middle">0</text><text x="362.8" y="2218.8" text-anchor="middle">20</text><text x="581.9" y="2218.8" text-anchor="middle">40</text><text x="801.1" y="2218.8" text-anchor="middle">60</text><text x="1020.2" y="2218.8" text-anchor="middle">80</text><text x="1239.3" y="2218.8" text-anchor="middle">100</text><text x="1458.4" y="2218.8" text-anchor="middle">120</text><text x="1677.5" y="2218.8" text-anchor="middle">140</text><text x="1896.7" y="2218.8" text-anchor="middle">160</text><text x="2115.8" y="2218.8" text-anchor="middle">180</text><text x="2334.9" y="2218.8" text-anchor="middle">200</text><text x="131.3" y="2181.7" text-anchor="end">0</text><text x="131.3" y="2003.7" text-anchor="end">2</text><text x="131.3" y="1825.7" text-anchor="end">4</text><text x="131.3" y="1647.6" text-anchor="end">6</text><text x="131.3" y="1469.6" text-anchor="end">8</text><text x="131.3" y="1291.6" text-anchor="end">10</text></g>
<text x="1240.1" y="2274.7" text-anchor="middle" font-size="42" letter-spacing="0.6" fill="#262626">Time Steps</text>
<text transform="translate(69.6 1720) rotate(-90)" text-anchor="middle" font-size="42" letter-spacing="0.6" fill="#262626">normalized Vel RMSE</text>
<rect x="2124.4" y="1300.4" width="185.2" height="209.9" fill="#fff" stroke="#262626" stroke-width="1" shape-rendering="crispEdges"/>
<path d="M2131 1329.1h55.8" stroke="#ff0000" stroke-width="4.0" fill="none"/>
<path d="M2158.9 1319.8L2167 1333.8L2150.8 1333.8Z" fill="none" stroke="#ff0000" stroke-width="4.0"/>
<text x="2191.9" y="1343.4" font-size="38.6" fill="#000">EKF</text>
<path d="M2131 1379.9h55.8" stroke="#00ff00" stroke-width="4.0" fill="none"/>
<path d="M2150.9 1379.9L2166.9 1379.9M2158.9 1371.9L2158.9 1387.9M2153.6 1374.6L2164.2 1385.2M2153.6 1385.2L2164.2 1374.6" fill="none" stroke="#00ff00" stroke-width="4.0"/>
<text x="2191.9" y="1394.2" font-size="38.6" fill="#000">IEKF</text>
<path d="M2131 1430.7h55.8" stroke="#ff00ff" stroke-width="4.0" fill="none"/>
<path d="M2153.5 1425.3L2164.3 1436.1M2153.5 1436.1L2164.3 1425.3" fill="none" stroke="#ff00ff" stroke-width="4.0"/>
<text x="2191.9" y="1445" font-size="38.6" fill="#000">RUF</text>
<path d="M2131 1481.5h55.8" stroke="#0000ff" stroke-width="4.0" fill="none"/>
<path d="M2158.9 1490.8L2167 1476.8L2150.8 1476.8Z" fill="none" stroke="#0000ff" stroke-width="4.0"/>
<text x="2191.9" y="1495.8" font-size="38.6" fill="#000">NGDF</text>
<text x="1197.5" y="1142" text-anchor="middle" font-family="'Liberation Serif', 'DejaVu Serif', serif" fill="#000"><tspan font-size="87">(</tspan><tspan font-size="83" font-weight="bold" dx="-2">a</tspan><tspan font-size="87" dx="-2">)</tspan></text>
<text x="1197" y="2384.1" text-anchor="middle" font-family="'Liberation Serif', 'DejaVu Serif', serif" fill="#000"><tspan font-size="87">(</tspan><tspan font-size="86" font-weight="bold" dx="-1">b</tspan><tspan font-size="87" dx="-1">)</tspan></text>
</svg>
</body></html>
